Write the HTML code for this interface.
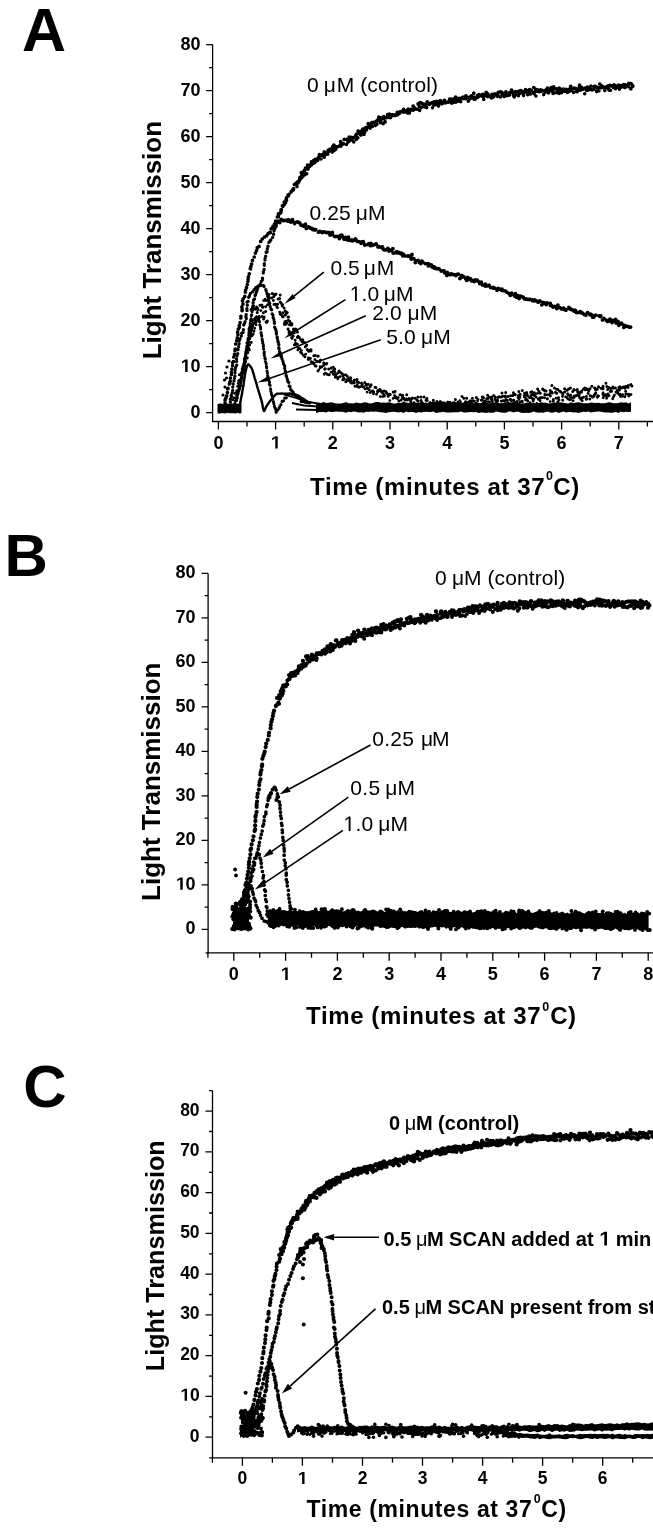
<!DOCTYPE html>
<html><head><meta charset="utf-8"><style>
html,body{margin:0;padding:0;background:#fff;width:653px;height:1535px;overflow:hidden}
svg{display:block;will-change:transform}
text{font-family:"Liberation Sans",sans-serif}
</style></head><body>
<svg width="653" height="1535" viewBox="0 0 653 1535" font-family='&quot;Liberation Sans&quot;, sans-serif' fill="#000"><text x="22" y="51.4" font-size="61" font-weight="bold" text-anchor="start">A</text>
<path d="M212.6 44.5 V422.1" stroke="#000" stroke-width="1.3"/>
<path d="M212 421.5 H653" stroke="#000" stroke-width="1.3"/>
<path d="M206.1 412.6H212.6M206.1 366.6H212.6M206.1 320.6H212.6M206.1 274.6H212.6M206.1 228.6H212.6M206.1 182.6H212.6M206.1 136.6H212.6M206.1 90.6H212.6M206.1 44.6H212.6M209.1 389.6H212.6M209.1 343.6H212.6M209.1 297.6H212.6M209.1 251.6H212.6M209.1 205.6H212.6M209.1 159.6H212.6M209.1 113.6H212.6M209.1 67.6H212.6M218.4 421.5V429.5M275.6 421.5V429.5M332.8 421.5V429.5M390 421.5V429.5M447.2 421.5V429.5M504.4 421.5V429.5M561.6 421.5V429.5M618.8 421.5V429.5M247 421.5V426.5M304.2 421.5V426.5M361.4 421.5V426.5M418.6 421.5V426.5M475.8 421.5V426.5M533 421.5V426.5M590.2 421.5V426.5M647.4 421.5V426.5" stroke="#000" stroke-width="1.3"/>
<text x="200.5" y="417.9" font-size="18" font-weight="bold" text-anchor="end">0</text>
<path transform="translate(180.5 371.9) scale(0.00879 -0.00879)" d="M530 0V1170L170 959V1180L545 1409H810V0Z"/>
<text x="190.5" y="371.9" font-size="18" font-weight="bold" xml:space="preserve">0</text>
<text x="200.5" y="325.9" font-size="18" font-weight="bold" text-anchor="end">20</text>
<text x="200.5" y="279.9" font-size="18" font-weight="bold" text-anchor="end">30</text>
<text x="200.5" y="233.9" font-size="18" font-weight="bold" text-anchor="end">40</text>
<text x="200.5" y="187.9" font-size="18" font-weight="bold" text-anchor="end">50</text>
<text x="200.5" y="141.9" font-size="18" font-weight="bold" text-anchor="end">60</text>
<text x="200.5" y="95.9" font-size="18" font-weight="bold" text-anchor="end">70</text>
<text x="200.5" y="49.9" font-size="18" font-weight="bold" text-anchor="end">80</text>
<text x="218.4" y="448.6" font-size="18" font-weight="bold" text-anchor="middle">0</text>
<path transform="translate(270.6 448.6) scale(0.00879 -0.00879)" d="M530 0V1170L170 959V1180L545 1409H810V0Z"/>
<text x="332.8" y="448.6" font-size="18" font-weight="bold" text-anchor="middle">2</text>
<text x="390" y="448.6" font-size="18" font-weight="bold" text-anchor="middle">3</text>
<text x="447.2" y="448.6" font-size="18" font-weight="bold" text-anchor="middle">4</text>
<text x="504.4" y="448.6" font-size="18" font-weight="bold" text-anchor="middle">5</text>
<text x="561.6" y="448.6" font-size="18" font-weight="bold" text-anchor="middle">6</text>
<text x="618.8" y="448.6" font-size="18" font-weight="bold" text-anchor="middle">7</text>
<text x="161" y="240.1" font-size="26" font-weight="bold" text-anchor="middle" transform="rotate(-90 161 240.1)">Light Transmission</text>
<text x="310.1" y="494.9" font-size="24" font-weight="bold" letter-spacing="0.6">Time (minutes at 37</text>
<text x="545.9" y="480.2" font-size="12.5" font-weight="bold">0</text>
<text x="553.3" y="494.9" font-size="24" font-weight="bold" letter-spacing="0.6">C)</text>
<text x="307" y="92.4" font-size="21" font-weight="normal" text-anchor="start" letter-spacing="0.1">0</text>
<text x="323.8" y="92.4" font-family="Liberation Serif" font-weight="normal" font-size="21">μ</text>
<text x="336.7" y="92.4" font-size="21" font-weight="normal" text-anchor="start" letter-spacing="0.1">M (control)</text>
<text x="309.6" y="220" font-size="21" font-weight="normal" text-anchor="start" letter-spacing="0.1">0.25</text>
<text x="355.7" y="220" font-family="Liberation Serif" font-weight="normal" font-size="21">μ</text>
<text x="368" y="220" font-size="21" font-weight="normal" text-anchor="start" letter-spacing="0.1">M</text>
<text x="330.4" y="274.6" font-size="21" font-weight="normal" text-anchor="start" letter-spacing="0.1">0.5</text>
<text x="363.8" y="274.6" font-family="Liberation Serif" font-weight="normal" font-size="21">μ</text>
<text x="376.7" y="274.6" font-size="21" font-weight="normal" text-anchor="start" letter-spacing="0.1">M</text>
<path transform="translate(349.7 301) scale(0.01025 -0.01025)" d="M515 0V1237L197 1010V1180L530 1409H696V0Z"/>
<text x="361.5" y="301" font-size="21" font-weight="normal" xml:space="preserve" letter-spacing="0.1">.0</text>
<text x="383.7" y="301" font-family="Liberation Serif" font-weight="normal" font-size="21">μ</text>
<text x="396.1" y="301" font-size="21" font-weight="normal" text-anchor="start" letter-spacing="0.1">M</text>
<text x="372.2" y="319.6" font-size="21" font-weight="normal" text-anchor="start" letter-spacing="0.1">2.0</text>
<text x="407.5" y="319.6" font-family="Liberation Serif" font-weight="normal" font-size="21">μ</text>
<text x="419.8" y="319.6" font-size="21" font-weight="normal" text-anchor="start" letter-spacing="0.1">M</text>
<text x="386.3" y="344" font-size="21" font-weight="normal" text-anchor="start" letter-spacing="0.1">5.0</text>
<text x="421" y="344" font-family="Liberation Serif" font-weight="normal" font-size="21">μ</text>
<text x="433.3" y="344" font-size="21" font-weight="normal" text-anchor="start" letter-spacing="0.1">M</text>
<path d="M323.8 272.1 L294 296.1" stroke="#000" stroke-width="1.6"/>
<path d="M284.3 303.9 L292.5 294.1 L295.6 298 Z" fill="#000"/>
<path d="M345.4 299.6 L294.9 331.5" stroke="#000" stroke-width="1.6"/>
<path d="M284.3 338.2 L293.5 329.4 L296.2 333.6 Z" fill="#000"/>
<path d="M365.8 315.7 L281.8 353.5" stroke="#000" stroke-width="1.6"/>
<path d="M270.4 358.6 L280.8 351.2 L282.8 355.8 Z" fill="#000"/>
<path d="M380.8 339.7 L269.3 378.5" stroke="#000" stroke-width="1.6"/>
<path d="M257.5 382.6 L268.5 376.1 L270.1 380.9 Z" fill="#000"/>
<path d="M225 403.1h0M225.1 399.9h0M225.9 397.9h0M226.7 395.9h0M227.4 392.5h0M227.5 388.8h0M228 388.4h0M229.4 384h0M229.8 382.9h0M230.2 381.3h0M230.4 378h0M231.4 374.4h0M231.4 372.4h0M231.9 369.2h0M232.6 365.5h0M232.6 362.6h0M233.5 361.5h0M233.8 357h0M234.5 354.4h0M235 350.6h0M235.3 349h0M235.7 344h0M236.7 340.7h0M237.3 337.8h0M237.9 334.4h0M237.6 332.2h0M238.3 329h0M239.4 327.3h0M239.3 325.5h0M240.1 322.7h0M240.8 317.9h0M240.9 316.4h0M242.1 310.6h0M242.1 309.3h0M241.9 306.9h0M243 303.9h0M242.5 300.7h0M243.2 298.8h0M244.8 296.4h0M245.4 292.1h0M245.7 290.1h0M246.5 287.6h0M247.3 284.6h0M247.9 281.2h0M248.1 279.4h0M248.4 276.9h0M249.3 273.8h0M250.5 268.9h0M250.3 268.6h0M250.9 266.4h0M251.6 264h0M252.4 260.4h0M254.2 257h0M255.4 253.1h0M256.6 250.6h0M257.3 247.7h0M259.1 246.4h0M260.7 241.4h0M262.2 239h0M264.5 237h0M266.7 235.7h0M268.1 233.6h0M269.9 232.7h0M269.7 232.6h0M270.4 232.6h0M271.1 228.8h0M271.7 228.3h0M273.3 226.3h0M273 226.3h0M273.7 226.8h0M274.5 224.2h0M275.6 221.2h0M277.2 222.5h0M277.6 221.3h0M277.4 216.9h0M278.3 216.7h0M278.4 213.8h0M278.4 214.8h0M280.1 213.3h0M280.9 212.2h0M281 209.9h0M281.4 209.8h0M282.8 206.5h0M282.4 205.8h0M284.3 204.6h0M285.5 202.8h0M284.2 202.2h0M285.2 202.4h0M286.1 199.4h0M286.5 200.2h0M286.6 197.7h0M288.5 195.7h0M288.1 195.1h0M289 194.3h0M291.2 191.8h0M291.3 191.3h0M293 189.2h0M293.4 189.8h0M293.6 188.5h0M294.4 184.5h0M295 184h0M296.8 182.7h0M296.9 183.6h0M297.9 183h0M297.3 182.2h0M298.6 181.7h0M299.6 179.9h0M300.1 178.5h0M300 177.4h0M301.3 172.7h0M301.8 175.1h0M302.4 174.5h0M304.4 170.9h0M304.9 173.7h0M304.7 170.1h0M305.5 168.1h0M307 167.9h0M307.8 169.1h0M308.3 165.6h0M307.5 165h0M309.7 166.3h0M310.2 164.9h0M310.8 164.8h0M311.4 161.9h0M312.3 163.4h0M313.2 161.5h0M313.7 160.4h0M315.4 159.4h0M315.4 159.7h0M316.7 159.1h0M318.8 157h0M319.4 154.5h0M321.1 155.4h0M322.8 155.4h0M323 154.4h0M324.3 151.9h0M325.1 153.5h0M326.2 153h0M328.2 150.4h0M327.7 154h0M328.6 150.2h0M328.9 149.8h0M330.3 149h0M331.6 149.2h0M332.9 147.9h0M332.8 146.4h0M333.8 145h0M335.6 146.5h0M338.2 146.5h0M340.4 144.6h0M340.6 141.5h0M342.9 143.5h0M344.3 139.5h0M344.2 139.5h0M346.4 139.3h0M348.3 140.4h0M349.2 137.6h0M349.2 137.1h0M352.1 137.9h0M351.4 137.3h0M354.2 137.4h0M355.5 135.9h0M356.2 137h0M356.7 134.1h0M358.1 131.2h0M359.1 132.2h0M360.5 133.9h0M361.2 131h0M362 132.5h0M362.8 129h0M363.6 129.4h0M365.7 127.7h0M366.4 127.5h0M368.2 123.7h0M368.4 127h0M369.5 127.2h0M369.4 124.2h0M371.8 122.7h0M372.3 122.7h0M373.6 122.8h0M374.4 122.1h0M376.1 122.4h0M376.8 120.9h0M377.8 119.9h0M378.8 117h0M380.1 119.9h0M380.9 117.9h0M382.7 118.3h0M383.8 116.6h0M384.6 118.1h0M386.2 117.7h0M387.6 114.6h0M389.4 114h0M389.8 114.7h0M390 115.5h0M392.3 114.8h0M394.2 115h0M395 115.5h0M396.2 115.1h0M397.2 112.3h0M398.9 113.2h0M399.3 112.1h0M401.7 111.6h0M402.7 111.7h0M403.9 111.4h0M403.6 109.4h0M405.1 111h0M406.7 110.6h0M407.8 112.9h0M408.2 109.2h0M410.1 109.9h0M411 109.3h0M413.1 106h0M414.7 108.1h0M414.2 107.6h0M415.4 108.8h0M418.1 103.9h0M419.4 106.5h0M420 102.7h0M421.6 103.2h0M423.8 104.2h0M425.1 106.9h0M426.2 104.3h0M427.2 101.8h0M430.1 103.7h0M430.1 103.4h0M432.3 102.6h0M434.2 101.8h0M434.1 102.2h0M436.9 101.3h0M437.8 101.8h0M438 101.9h0M440.3 100.7h0M441.3 102h0M442.9 102.9h0M444.2 100.4h0M445.7 102.3h0M447.8 102h0M449.7 99.1h0M450.1 100.7h0M451.3 99h0M453.2 102.3h0M454 98.9h0M455.6 97h0M456.9 98.4h0M457.7 101h0M459.1 98.4h0M459.7 98.6h0M462.2 97.6h0M463 97.2h0M463.8 98.5h0M465.9 95.8h0M466.6 97h0M468.3 97.9h0M470.2 96.8h0M471.3 95.9h0M473.9 97.2h0M473.8 93.2h0M474.7 99.1h0M475.9 97.8h0M477.5 95.7h0M479.1 94.5h0M480.4 95.4h0M482.7 94.3h0M483.4 96.3h0M484.7 94.5h0M486.2 92.3h0M487.8 93.8h0M489.5 96.1h0M491.3 96.3h0M492.1 94.3h0M492.3 97.3h0M494.9 93.9h0M496.6 94.7h0M496.8 94.1h0M498.3 92.3h0M500.4 91.9h0M502 92.4h0M502.1 94.8h0M504.5 94.1h0M505.9 91.9h0M505.1 95.4h0M507.4 95.2h0M509.5 92.6h0M511.6 90.2h0M512.6 92.7h0M514.2 95.5h0M515.2 91.7h0M515.9 92.4h0M518.1 91.7h0M519.1 91.2h0M520.7 92.4h0M520.9 90.5h0M523.1 91.6h0M523.9 92.5h0M525.5 89.7h0M526.9 92h0M527.8 90.7h0M529.6 89.7h0M530.3 94h0M531.2 90.4h0M533.8 87.5h0M533.8 92.7h0M535.7 90.8h0M535.7 89.4h0M536.2 90.8h0M537.8 89.9h0M540.1 91.4h0M540.7 90.3h0M540.8 89.8h0M542.1 90.3h0M544.1 90.8h0M546.1 89.8h0M547.5 89.4h0M547.4 88.2h0M549.7 88.9h0M551.2 87.7h0M551.8 91h0M552.6 90.1h0M553.6 86.8h0M554 88.7h0M556 88.9h0M556.2 88.8h0M557.9 90.1h0M559.2 88h0M561.7 89.4h0M562 91.3h0M563.6 89.2h0M566.1 89.3h0M568.3 89.5h0M569.5 89.2h0M570.7 86.3h0M572.3 89h0M574 88.2h0M575.6 88.3h0M577.2 91.7h0M579.3 87.4h0M579.5 85.2h0M579.7 89.8h0M581.6 87.3h0M582.6 89.1h0M583.9 88.8h0M585.2 88.1h0M586.9 90.3h0M587.5 87.1h0M589.3 88.6h0M589.7 89.5h0M591 86.1h0M594.2 87.2h0M594.6 86.3h0M595.5 86.6h0M597.2 87.4h0M600 87.7h0M599.8 84h0M601.6 85.9h0M603.2 86.9h0M603.5 87.4h0M605.5 87.3h0M607 86.6h0M608.5 87.2h0M608.7 85.6h0M610 85.3h0M612 85.9h0M613.4 87.3h0M614 84.9h0M616.4 86.2h0M616.3 87.5h0M618.7 85.2h0M619.1 85.7h0M619.8 86.4h0M621.2 85.6h0M622.4 85.5h0M623.7 84.7h0M625.2 84.8h0M626.9 85.9h0M628.8 83.4h0M630.6 83.5h0M631.4 83.8h0M632.8 85.8h0" stroke="#000" stroke-width="3.7" stroke-linecap="round" fill="none"/>
<path d="M297 186.6h0M298.7 181.7h0M298.8 181h0M299.8 179.8h0M301.8 177.7h0M303.1 176.1h0M304.1 170.9h0M304.9 174.8h0M306.7 173.7h0M307.3 167.9h0M308 168.6h0M311 165.2h0M311.7 164.4h0M313.5 163.2h0M314.8 162.8h0M316.8 160.8h0M317.7 160.4h0M318.2 158h0M321 159h0M322.4 154.9h0M324.3 157.2h0M325.3 154.8h0M326.9 154.1h0M328.4 151.3h0M329.6 151.1h0M332.3 152.1h0M333.1 151.1h0M334.7 150.1h0M335.7 149.2h0M336.7 147.3h0M340.8 146.3h0M342.2 143.9h0M343.5 143.9h0M346.5 144.5h0M347.8 142.3h0M348.9 141.6h0M349.8 140.8h0M352 139.7h0M353.8 142h0M356.2 139.5h0M357.8 137.9h0M359.1 133.6h0M359.8 133.7h0M360.9 135.1h0M363 132.3h0M364.1 134.5h0M364.6 132.7h0M366.5 130h0M368.5 126.9h0M370.1 128.3h0M371.1 124.9h0M372.4 126.5h0M375.4 125.6h0M376.8 124.4h0M378.3 120.2h0M380.2 122.7h0M381 121.1h0M383.2 123.8h0M385.2 121.9h0M384.9 121.6h0M387.4 117.2h0M389.2 117.4h0M390.7 117.6h0M392.5 115h0M393.4 115.5h0M395.3 115.1h0M397.7 114.7h0M399.2 113.5h0M401 111.6h0M402.3 111.4h0M404.2 112.1h0M406.4 112.1h0M408.2 110.1h0M409.5 113h0M411.1 110.1h0M413.3 110.2h0M415 108.7h0M417.4 109.2h0M419.6 110.5h0M421.1 107.8h0M423.1 106.4h0M425 104.6h0M426.7 107.6h0M429.3 104.4h0M432.5 107.8h0M433.8 105.2h0M435.6 104.7h0M436.5 103.2h0M438.5 106.1h0M439.6 103.6h0M441.8 104h0M444.7 100.6h0M445.4 103h0M448.6 102.1h0M450.4 99.8h0M451.7 103.3h0M454 100.3h0M455.7 102.3h0M457.5 101.1h0M459.3 99.4h0M460.7 101.7h0M462.2 98.6h0M465.6 98.7h0M466.7 97.1h0M468.3 101.3h0M469.8 99.1h0M471.5 98h0M474.1 99.3h0M475.2 99h0M477.5 97.4h0M478.8 96.5h0M482.2 96.3h0M483.7 99.4h0M486.2 95.9h0M487.8 96.8h0M491.4 98h0M492.7 96.8h0M493.9 96.6h0M497.6 96.5h0M498.1 95.5h0M500.5 97h0M504.2 96.6h0M507.1 95.8h0M508.7 94.9h0M509.6 95.1h0M513.5 95.4h0M514.2 97h0M516.1 94.9h0M518.5 95.8h0M519.5 93.5h0M522.3 93h0M523.6 95.6h0M524.8 92h0M527.7 94.7h0M529.2 91.9h0M531.5 90.8h0M534 93.7h0M535.9 96h0M537 91.2h0M538.9 91.8h0M541.3 91.2h0M543.7 94.6h0M545.6 92h0M548.5 93h0M548.9 91.4h0M551.4 90.7h0M553.1 93.5h0M554.2 92.9h0M557 92.6h0M559.1 93.5h0M560.5 91.1h0M561.4 92.8h0M564.5 91.4h0M567.4 92.5h0M568.8 91.5h0M570.7 90.6h0M573.6 92.4h0M576.5 91.1h0M577.7 89.9h0M579.3 88.7h0M580.7 90.1h0M582.6 89.1h0M584.7 93.7h0M586.9 90.3h0M588.9 89.7h0M590.8 89.3h0M592.2 90h0M594 89.2h0M596.6 91.6h0M597.6 88.2h0M598.9 91h0M601.4 87.8h0M604.8 90.6h0M605.4 88.2h0M608.5 88.8h0M609.1 90.3h0M610.5 90.3h0M614.1 87.4h0M615.5 88.7h0M616 87.4h0M619.4 89.2h0M621.1 87.2h0M623.2 86.4h0M624.6 87.6h0M625.2 87.4h0M627.8 85h0M628.7 86.7h0M630.9 88.9h0M632.6 86.4h0" stroke="#000" stroke-width="3.6" stroke-linecap="round" fill="none"/>
<path d="M230.4 405.7h0M230.4 402h0M230.4 399.3h0M231.4 397.1h0M231.3 395.2h0M232.2 392.7h0M232.7 390.4h0M232.8 387.1h0M233.2 384h0M234 380.7h0M234.5 378.1h0M234.9 376.3h0M235 372.7h0M235.1 370h0M235.6 367.6h0M236.7 365.2h0M236.5 361.4h0M236.5 359.1h0M237 356h0M237.7 353.8h0M237.9 349.8h0M238 349.3h0M238.6 346.6h0M239.1 343.7h0M239.3 340.5h0M240 338.9h0M241.3 336h0M241.7 333.3h0M243.1 332.5h0M243.4 329.7h0M243.7 325h0M244.6 323.4h0M245.1 321.6h0M246.3 318.5h0M245.9 316.6h0M246.2 314.6h0M247 310.6h0M246.9 308.7h0M247.3 305.2h0M247.1 302.1h0M248.1 301.4h0M248.7 297.2h0M249.5 295.8h0M250.4 293.4h0M252.5 291.9h0M254.1 289.7h0M255.8 287.6h0M257.9 286.2h0M260.3 284.2h0M261.3 281.5h0M262.5 279.7h0M262.5 278.3h0M263.2 272.9h0M263.4 271.8h0M264.1 269.5h0M264.3 265.3h0M264.3 263.7h0M265 260.1h0M265.2 258h0M265.7 256.1h0M266.2 252.4h0M267.1 251.7h0M267.3 248.8h0M268 246.2h0M268.9 242.4h0M270 241.3h0M270.8 239.9h0M272.7 237.4h0M273.6 234.3h0M274 230.7h0M274.8 228.7h0M275.9 226.7h0M276.4 225.5h0M278.5 221.3h0" stroke="#000" stroke-width="3.4" stroke-linecap="round" fill="none"/>
<path d="M279.8 222.6h0M281.1 219.3h0M283.2 220.6h0M284 220.6h0M284.6 220.4h0M287 220.2h0M287.9 221.2h0M288.7 220h0M290.6 221.9h0M290.8 222h0M292.4 219.6h0M294.2 222.5h0M294.6 223.5h0M297 221.9h0M298.2 222.2h0M299.9 223.1h0M300.9 225.1h0M302.1 225.4h0M303.7 225.4h0M304.2 226.4h0M305.5 224.2h0M306.3 228.4h0M308.1 226.9h0M309.6 227.4h0M309.9 228h0M311.8 228.5h0M312.7 229.6h0M313.6 229.4h0M314.9 230h0M315.7 229.6h0M318.5 232.2h0M319.4 231.3h0M320.7 231.7h0M322.3 232.5h0M323.7 231.9h0M325 232.1h0M326.9 232.7h0M328.3 232.3h0M329.8 233h0M330 235.1h0M331.9 234h0M332.4 232.3h0M332.3 234.5h0M334.5 236.3h0M335.6 236.6h0M337 236.4h0M339.4 238.6h0M340.2 235.7h0M341.8 235.1h0M342.3 236.4h0M343.9 239h0M345.3 237.3h0M346 239.4h0M348.3 240.2h0M348.5 237.2h0M350.4 240.4h0M351.6 239.8h0M352.3 240.8h0M353.5 240.4h0M355.3 238.9h0M356.2 240h0M357.3 241.4h0M359 241.6h0M361.1 243.3h0M361.9 242h0M363.2 241.7h0M363.6 242.8h0M364.8 245h0M367.8 244.6h0M368.3 244.3h0M368.8 243.6h0M370.5 244h0M370.5 245.7h0M371 243.5h0M372.3 245.3h0M374.6 244.6h0M376.2 244h0M378 246.9h0M378.5 246.5h0M380.1 247.1h0M382.5 246.9h0M383.1 248.9h0M384.4 249.9h0M385.7 249.9h0M387.8 248.5h0M389.1 251.1h0M389.8 249.9h0M391.7 250.4h0M392.9 248.7h0M393.2 253.1h0M395.6 252.7h0M396.7 251.6h0M397.6 252.9h0M398.7 252.4h0M400.4 253.5h0M401.5 253.1h0M402.8 255.8h0M403.3 254.1h0M405.1 255.8h0M407.5 256.1h0M408.6 256h0M410.3 256.7h0M411.2 259h0M412 254.4h0M412.6 258.5h0M413.8 258.6h0M415.6 260.6h0M415.3 262.5h0M418.1 260.3h0M419.3 262.4h0M420.8 263.5h0M421.9 261.1h0M422.7 261.9h0M422.4 261.9h0M425.2 263.6h0M427.2 263.6h0M428.3 265.8h0M428.4 263.6h0M431.3 265.9h0M431.3 265h0M432.2 267.1h0M432.7 266.5h0M434.3 268h0M434.2 266.8h0M436.3 268.5h0M438.3 268.7h0M439.1 269h0M438.4 268.9h0M441.2 271h0M442.6 270.9h0M444.1 271h0M444.8 272.9h0M446.8 275.4h0M447.2 272.4h0M448.1 273.7h0M450.1 274.7h0M450.5 274.1h0M451.5 273.9h0M452.3 274.4h0M454.3 274.7h0M455.9 275.5h0M457.1 274.3h0M458.4 274.2h0M459.8 278.5h0M461 277.4h0M461.8 275.5h0M462.5 276.2h0M464 276.8h0M465.7 278.7h0M466.6 280.3h0M467.8 277.5h0M468.9 279.5h0M470.3 278.6h0M471.8 280.9h0M472.5 280.3h0M474.3 281.5h0M475.3 280h0M477.1 280.2h0M477.9 281.2h0M479.9 282.5h0M479.7 283.5h0M481.3 282.1h0M482.5 284.9h0M485.3 286h0M485.3 284.2h0M487.2 285.9h0M487.9 285.8h0M488.7 285.4h0M489.2 285.5h0M490.6 287.6h0M493.2 287.3h0M493.3 288h0M494.7 288.1h0M497 290.3h0M498.1 288.3h0M498.3 288.6h0M499.8 289.2h0M501.7 290.3h0M502 289.2h0M503.5 290.7h0M505.7 291.1h0M507 292.3h0M509.2 293.7h0M510.3 295.3h0M511.8 293.2h0M514.1 295.2h0M514.7 296.1h0M515.4 293.7h0M516.6 297.2h0M518 295.6h0M518.7 295.9h0M519.1 298.5h0M520.6 296.2h0M521.1 296.5h0M523.2 297.2h0M524.3 298.8h0M525.5 299.2h0M526.3 298.9h0M527.6 299.4h0M529.2 299.5h0M530.1 299.3h0M532.2 300h0M532.6 300.7h0M534 300.9h0M534.7 299.8h0M536.3 300.8h0M538.1 302.2h0M539.2 301.4h0M539.8 300.9h0M541.8 304.8h0M542.9 302.3h0M544.5 302.8h0M544.9 303.6h0M546.3 304.6h0M547.1 303h0M550.2 303.4h0M550.4 305.4h0M551.4 305.4h0M552.9 307h0M554.6 306.5h0M556.7 308.6h0M557.9 305.1h0M558 307.7h0M559.8 307.6h0M561.6 308.9h0M563.5 308.1h0M564.6 309.5h0M566.2 309.7h0M565.9 310.2h0M568.9 307.3h0M568.9 308.6h0M570.7 309h0M570.9 309.4h0M572.7 310.1h0M574 311h0M574.7 310.2h0M575.6 310.7h0M576.4 312.6h0M578.2 312.6h0M580.3 311.7h0M581.1 312.2h0M581.5 312.9h0M582.5 313.1h0M584.3 314.5h0M585.7 314.5h0M585.9 315.2h0M587.6 312.6h0M590 314.8h0M590.5 314.1h0M591.8 315h0M592.7 317.2h0M593.7 317.2h0M594.3 315.8h0M595.4 315.3h0M595.8 315.1h0M599.2 316h0M600.2 316.6h0M600.8 316h0M602.5 319.9h0M604 318.4h0M606.2 320.2h0M607.6 321.4h0M608.4 320.9h0M609.9 319.1h0M610.9 320.9h0M612.1 322.5h0M612.8 320.4h0M614.5 320.8h0M615.6 319.5h0M616.2 323.1h0M618 321.3h0M618.9 325.3h0M619.1 324.4h0M621.4 323.1h0M622 324.1h0M623.8 327.4h0M624.8 325.4h0M625.7 326.1h0M627.8 326.4h0M629.2 327h0M630.6 327.1h0" stroke="#000" stroke-width="3.8" stroke-linecap="round" fill="none"/>
<path d="M236.2 400.6h0M236.5 398.3h0M237 395.6h0M237.5 393.2h0M238.7 391.1h0M238.9 389.6h0M239.3 386.2h0M239.8 384.3h0M240.2 382.3h0M240.8 381.2h0M241.7 377.1h0M241.8 375.2h0M242.4 372.5h0M242.5 371h0M243.1 369.2h0M243.6 366.4h0M244 364.3h0M244.6 361.9h0M244.7 360.2h0M245.1 358.3h0M245.5 355.9h0M245.9 353.4h0M245.9 351.9h0M246.4 349.9h0M246.9 347.7h0M247 346.3h0M247.1 343.1h0M247.6 342.4h0M248 339.4h0M248.5 338.1h0M248.9 335.3h0M249 332.7h0M249.3 331h0M249.2 329h0M249.8 327.1h0M250.2 324.6h0M250.4 323.2h0M250.7 320.8h0M251.1 318.9h0M251.4 315.6h0M251.6 314.9h0M252.1 311.6h0M252.5 309.9h0M252.7 307h0M253 305.6h0M253.1 302.6h0M253.6 300h0M254.5 298.9h0M255.1 295.5h0M255.5 294.7h0M256.4 292.2h0M257.1 290.3h0M257.8 288h0M258.6 286.1h0M260.6 285.5h0M263.3 285.5h0M264.1 286.6h0M265.8 289.6h0M266.3 291.1h0M267 293.7h0M267.7 296.3h0M268.4 298.3h0M268.5 300.3h0M269 301.7h0M269.7 303.4h0M270.2 306.7h0M271 309.1h0M271.6 309.8h0M272.1 313.9h0M272.9 315.1h0M273.2 317.8h0M273.8 319.4h0M274.4 322h0M274.4 323.3h0M274.7 327.2h0M275.5 328.9h0M275.9 330.2h0M276.3 332.3h0M276.4 334.1h0M277.2 337.2h0M277.3 338.4h0M277.9 341h0M278.2 342.2h0M278.8 344.5h0M278.8 347.7h0M279 348.7h0M279.6 351.8h0M280.1 353.2h0M280.9 354.9h0M281.4 356.9h0M282.1 359h0M283 361.6h0M283.5 363.9h0M284.7 365.9h0M284.7 368.3h0M285.3 371h0M285.6 372.8h0M286.2 375.5h0M286.5 376.4h0M287.3 379.1h0M287.6 380.9h0M288.7 382.4h0M289.2 386h0M290 386.7h0M290.8 389.7h0M292.1 391.1h0M293.2 392.5h0M294.6 395.1h0M296.4 396.1h0M298 397.5h0M299.5 398.3h0M301.3 401.5h0M303.1 401.6h0M305.3 402.3h0M307.5 402.6h0M309.8 402.8h0" stroke="#000" stroke-width="3.4" stroke-linecap="round" fill="none"/>
<path d="M234 404.8h0M234.8 403.5h0M235.5 401h0M236.4 398h0M237.1 395.4h0M237.6 394.2h0M238.2 391.1h0M239 389.7h0M239.4 387.8h0M240 385.1h0M240.7 382.7h0M241.1 380.1h0M241.5 377.9h0M241.9 376h0M242.3 373.6h0M242.7 371.2h0M243.3 370h0M243.1 367.7h0M243.8 365.9h0M244.7 363.3h0M244.7 361.1h0M245.2 359.8h0M245.6 357.5h0M245.7 355.3h0M246.2 353.1h0M247 351.2h0M247 348.5h0M247.3 346.6h0M248.3 344.7h0M248.3 342.3h0M248.7 341.3h0M249.4 338.4h0M249.6 336.6h0M250.7 335.1h0M251.1 331.3h0M251.5 328.8h0M251.8 326.6h0M252.5 325.3h0M253.3 323.4h0M253.9 319.5h0M255.1 318.4h0M256.2 317.3h0M257.7 318.1h0M258.8 320.4h0M259.5 321.8h0M259.8 325h0M260.6 327.4h0M260.7 329h0M261.1 332.7h0M261.4 334.6h0M261.7 335.9h0M262.1 339.2h0M262.4 340.7h0M262.7 342.7h0M263.3 344.7h0M263.4 346.4h0M263.6 349.1h0M264.3 352.1h0M264.1 353.2h0M264.3 355.3h0M264.9 357.9h0M265.3 359.1h0M265.3 361.3h0M266.2 363.6h0M266.4 366.4h0M266.7 367.7h0M267.1 371h0M267.4 373.1h0M267.7 375.9h0M268.1 377.2h0M268.9 379.8h0M269.5 382h0M269.4 384.2h0M270.1 385.3h0M270.5 388.8h0M270.7 390.7h0M271.3 392.9h0M271.6 394.8h0M272.3 396.6h0M272.7 398.7h0M273.4 401.7h0M273.8 403.6h0M274.4 406.2h0M275.2 408h0M275.7 409.5h0M276.1 412.2h0M277.6 410.1h0M279 408.3h0M279.7 406.6h0M280.9 404.5h0M282.1 401.4h0M283.5 400.8h0M284.7 398h0M286.3 397.8h0M287.4 394.5h0M289.7 393.8h0M292.2 394.3h0M293.9 394.6h0M295.6 394.9h0M298 395.9h0M299.5 396.9h0M301.2 399h0M303 400.6h0" stroke="#000" stroke-width="3.2" stroke-linecap="round" fill="none"/>
<path d="M240 404 L240.2 402.8 L240.5 401.6 L240.7 400.2 L240.9 399.2 L241.1 398.1 L241.3 397 L241.6 395.9 L241.8 394.7 L242 393.5 L242.2 392.4 L242.4 391.2 L242.6 390.1 L242.8 389 L243 388 L243.2 387 L243.3 385.9 L243.5 384.9 L243.7 383.8 L243.8 382.7 L244 381.6 L244.1 380.5 L244.3 379.5 L244.4 378.4 L244.6 377.4 L244.8 376.4 L245 374.9 L245.2 373.6 L245.4 372.4 L245.7 371.2 L246 369.8 L246.3 368.5 L246.6 367.4 L246.9 366.4 L247.3 365.3 L248.2 364.2 L249.1 364.8 L250 366 L250.8 366.9 L251.4 367.8 L252.1 369.3 L252.5 370.4 L252.9 371.7 L253.2 372.6 L253.5 373.7 L253.8 374.7 L254.1 375.8 L254.4 376.9 L254.7 378 L255 379 L255.3 380 L255.6 381 L255.9 381.9 L256.2 382.9 L256.5 383.9 L256.8 384.9 L257 385.8 L257.3 386.8 L257.6 387.8 L257.9 388.8 L258.2 389.7 L258.5 390.7 L258.8 391.7 L259.1 392.7 L259.4 393.6 L259.7 394.6 L260 395.6 L260.3 396.6 L260.6 397.6 L260.9 398.6 L261.2 399.5 L261.6 400.9 L261.8 401.9 L262.1 403.1 L262.4 404.4 L262.6 405.6 L262.8 406.8 L263 408 L263.2 409 L263.6 410.3 L264.1 411.1 L264.8 410.1 L265.3 408.8 L265.8 407.5 L266.3 406.6 L267 405.4 L267.8 404.1 L268.5 403.2 L269.4 402 L270.1 401.1 L270.8 400.2 L271.5 399.4 L272.1 398.6 L272.8 397.7 L273.6 396.7 L274.3 395.9 L275 395.1 L276.2 394.2 L277.4 393.7 L279 393.6 L280.2 393.6 L281.6 393.5 L282.7 393.6 L283.8 393.6 L285 393.6 L286.1 393.6 L287.2 393.7 L288.2 393.7 L289.6 393.8 L290.8 393.9 L291.9 394 L293.3 394.3 L294.6 394.6 L296 395 L296.9 395.4 L297.9 395.8 L298.8 396.2 L299.7 396.7 L300.6 397.2 L301.5 397.7 L302.4 398.3 L303.4 398.9 L304.4 399.5 L305.4 400.2 L306.3 400.8 L307.5 401.6" stroke="#000" stroke-width="2.4" fill="none" stroke-linejoin="round"/>
<path d="M231 405h0M233 399.8h0M234 397.8h0M234.9 393.2h0M236.7 390.7h0M237.7 386.3h0M238.3 383.2h0M238.7 380.7h0M240.1 379.7h0M239.4 374.8h0M241.3 372.8h0M242.2 369.1h0M242.9 366.8h0M244 363.4h0M244.4 358.8h0M245.3 356.8h0M246.3 352.3h0M247.4 349.2h0M247.5 345.7h0M248.3 343.5h0M249.9 338.2h0M250.1 337h0M250.6 333.2h0M251.7 329.8h0M252.7 326.1h0M253.8 323.2h0M254.9 320.4h0M256.5 316.8h0M257.2 312.4h0M257.9 309.7h0M260 305.3h0M261.9 305h0M263.7 300.4h0M266.3 300.5h0M265 299.2h0M268.1 295.2h0M269 297.2h0M269 294.4h0M269 294.4h0M271.5 298.1h0M272.2 293.4h0M273.8 294.3h0M273.7 296.8h0M275 295.1h0M276 293.9h0M278.1 299.1h0M280.2 295.1h0M278.2 299h0M279.7 298.6h0M281.1 303.3h0M280.3 302.1h0M282.2 306.1h0M282.7 304.8h0M284.1 308h0M282.8 312.8h0M285.2 311h0M285.3 315h0M286.1 311.7h0M286.1 313.8h0M287.2 312.6h0M288.5 317h0M288.1 317.1h0M288.4 320.3h0M289.7 321.2h0M289.5 324.8h0M290.5 323.1h0M291.9 323.7h0M291.7 325h0M293.5 329h0M293.5 329.3h0M294.7 330.7h0M295.7 329h0M297.4 331.9h0M296.6 330.4h0M297.3 337.3h0M298.1 336.3h0M298 336.5h0M300.6 339.5h0M299.4 337.6h0M301.7 340.9h0M302.3 341.7h0M302.6 339.8h0M304.3 342.3h0M306.4 345.4h0M305.3 346.7h0M306.7 344.9h0M307.3 349.4h0M308.3 351h0M310.3 350h0M308.6 351.3h0M311 349.7h0M311 350.9h0M313.8 355.8h0M314.9 359.5h0M315.3 355.6h0M317.9 356.2h0M318.2 355.9h0M317.3 361.3h0M320.5 360.1h0M319.7 361.7h0M323.9 362.9h0M323.7 363.1h0M323.8 365.3h0M326.1 364.1h0M325.3 368.7h0M326.8 363.4h0M328.7 369h0M331.2 368h0M333.2 367.2h0M333.5 370.5h0M334.7 369h0M334.6 371.7h0M335.9 374.8h0M337.7 373.1h0M339.1 371.1h0M340.5 372.6h0M343.1 375.1h0M342.8 379.7h0M344.2 379.3h0M345.5 374.7h0M347.1 376h0M348.1 380.6h0M348.9 378h0M350.6 377.7h0M350.8 380.7h0M350.8 378.3h0M352 383h0M354.5 379.9h0M354.3 382.8h0M357 379.5h0M357.4 381.8h0M358.7 382.6h0M362.2 384.4h0M361.5 383h0M364.7 382.4h0M365.8 385.3h0M368.1 384.3h0M366.7 384.5h0M367.6 388.2h0M369.2 389.8h0M370.2 386.6h0M371.1 384.7h0M371.9 391.3h0M375 387.2h0M375.9 387.6h0M377.8 390.4h0M379.8 389.2h0M381.6 392h0M382.6 392.9h0M384.2 391.1h0M385.8 391.4h0M386.2 392.5h0M387.4 393.7h0M389.6 394.2h0M390.2 394.5h0M393.2 392.1h0M394.7 391.9h0M395.1 391.5h0M396.2 397.8h0M398.1 397.5h0M400 394.7h0M400.3 394.7h0M402.4 397.2h0M402.8 395.2h0M403.8 398.2h0M406.1 399.3h0M406.7 394.8h0M407.5 400.1h0M410 399.3h0M411.6 399.1h0M412.5 398h0M415.2 398.2h0M417 399.9h0M418 397h0M418 401h0M421 397.1h0M421.9 402.4h0M421.1 400.4h0M424.1 397.1h0M426 400.2h0M426.9 398.6h0M430.1 402.5h0M430.1 402.9h0M433.1 403.5h0M433.3 400.3h0M435.9 403.8h0M437.2 402.4h0M437.1 403.1h0M436.9 401.4h0M439.9 401.9h0M440.2 401.5h0M441.3 402.3h0M443.1 406.4h0M444.1 402.8h0M446.8 403.4h0M448.4 404h0M447.8 402h0M450 402.2h0M453.3 402.8h0M452.4 407.6h0M454.6 402.8h0M455.4 399.4h0M456.7 403.6h0M457.9 403.7h0M458.1 401.9h0M459.9 400.7h0M459.8 400.7h0M462 396.5h0M463.8 398.2h0M465.6 401.8h0M466.7 398.2h0M468.4 402.1h0M470.3 400.8h0M471.6 402.5h0M472.4 398.3h0M474.3 401.1h0M472.3 401.4h0M476.3 397.6h0M477.6 400.6h0M478 399.6h0M481.9 400.1h0M483.1 397.3h0M482.3 397.1h0M483.5 398.1h0M485.3 401.7h0M487.6 399h0M486.7 398.8h0M487.6 398.4h0M487.6 395.2h0M489.5 397.2h0M491.6 397h0M491.6 397.4h0M491.9 398.7h0M493.8 395.5h0M495.1 397h0M495.1 399.5h0M497.4 400.6h0M497.9 397.5h0M499.2 396.7h0M501.2 396.9h0M502 393h0M502.7 396.2h0M505.3 396.1h0M505.4 397.1h0M506.1 399.7h0M505.7 392.6h0M508.1 396.6h0M510.9 399.7h0M510.6 399.7h0M510.6 395.8h0M513.5 392.7h0M513.7 393.4h0M512.8 395.5h0M515.1 394.6h0M515.3 394.8h0M518.5 395.4h0M518.8 391.6h0M519.9 397.3h0M519.6 395.4h0M520.2 394.3h0M522.3 390.4h0M524.2 395.8h0M524.5 393.2h0M527 393.9h0M526.9 394.8h0M526.6 392.6h0M527.5 395.8h0M530.7 392.2h0M531.9 391.7h0M532.8 394.4h0M530.9 395.6h0M534.4 392.8h0M534.5 395.4h0M535.3 394.3h0M537.8 392.9h0M537.6 389.1h0M539 391.3h0M540.3 393.2h0M543 389.6h0M542.7 389h0M543.8 390.1h0M544.8 390.9h0M544.8 394.5h0M547.1 394.7h0M546 391h0M550.2 390.5h0M550.5 392.9h0M551.6 391.8h0M551.9 385.4h0M552.3 393.1h0M554.5 388.1h0M555.5 392.2h0M556.7 393.2h0M556.8 389.2h0M557.9 389.4h0M560.3 391.6h0M560.7 392.1h0M559.7 391.3h0M562.8 394.8h0M564.6 392.1h0M564.6 388.7h0M567.7 393.7h0M567.1 390.2h0M568.3 394.9h0M568.7 389h0M570.7 394.9h0M570.4 388h0M572.7 391.4h0M574.3 390h0M573.9 389.5h0M577.2 390.5h0M577.3 389.6h0M578.5 392.9h0M577.7 391.9h0M579.4 393.8h0M579.3 392.3h0M581.6 391.1h0M581.6 392h0M583.6 389h0M584.7 388.1h0M585 389.8h0M586.3 388.4h0M586.8 389.5h0M587.9 389.6h0M588.7 391.1h0M590 388.8h0M591.8 386.2h0M594.6 387.9h0M594.9 388h0M595.7 392.7h0M596.5 389.6h0M595.5 389.6h0M597.2 389.2h0M598.5 386.8h0M601 388.2h0M602.3 388.7h0M603 388.8h0M602.4 387.9h0M603.1 386.3h0M605.9 383.2h0M606.9 386.5h0M607.7 389.5h0M608.9 387.4h0M610.7 388.4h0M611.5 391.2h0M612.9 386.9h0M615.4 388.1h0M613.4 388h0M612.9 387.9h0M617.1 391.5h0M618.8 387.4h0M619.8 386.8h0M619.4 390h0M620.8 388.1h0M623.5 387.1h0M622.2 387.8h0M625.2 388.2h0M626.2 386.6h0M625.5 386.4h0M628.1 387.3h0M628.3 385.4h0M630.9 384.5h0M631.9 386.1h0" stroke="#000" stroke-width="3" stroke-linecap="round" fill="none"/>
<path d="M235 404.8h0M236.4 400.5h0M237.5 398.1h0M238.2 393.6h0M239.9 388h0M240.9 385.7h0M241.1 380.8h0M242.6 377.9h0M243.6 373.4h0M243.8 370.8h0M244.2 369.6h0M245.6 366.5h0M245.7 361.7h0M247.3 358h0M247.8 352.8h0M249.4 350h0M248.8 348.3h0M249.7 345.1h0M251.2 342.5h0M252 335.8h0M253.2 334.3h0M254 331.2h0M254.6 328.2h0M256 324.7h0M256.5 321h0M257.8 318.4h0M259.1 316.4h0M260.8 310.6h0M262.8 307.3h0M265.6 306.8h0M269.6 304.3h0M273.4 300.5h0M274 304.5h0M275.2 304.3h0M276.8 306.8h0M277.5 307.7h0M277.6 304.2h0M279.9 312.6h0M279.7 312.2h0M280.1 314.3h0M281.3 314.9h0M282.4 316.8h0M282.4 315.8h0M283.2 316.9h0M284.5 323.5h0M284.9 321.7h0M284.3 324.6h0M286.1 321.3h0M285.8 324.6h0M287 323.3h0M288.1 328.9h0M288 329.3h0M289.1 331.3h0M289 333h0M289.4 331.7h0M290.2 334.9h0M290.4 332.7h0M291.6 337.7h0M292.1 338.6h0M293.2 336.2h0M295.2 340.2h0M294.4 344.9h0M295.5 343.2h0M295.9 344.5h0M297.4 344.1h0M298.3 348h0M297.9 349.9h0M299.9 348.6h0M300.5 352.2h0M301.4 350.6h0M301.6 353.2h0M303.2 355.3h0M305.7 354.1h0M305 356.9h0M308.5 358h0M308.2 359.4h0M308.7 359.6h0M310.4 358.5h0M311.2 361.8h0M312.8 362.5h0M313.6 363.7h0M315.1 365.9h0M315.6 365.6h0M316.1 366.3h0M318 371.1h0M318.7 369.9h0M320.2 366.6h0M320.4 367.7h0M322 366.7h0M324.2 374.2h0M324.7 369.2h0M325.4 373.1h0M327.1 374.3h0M328.2 374.8h0M329.4 374.7h0M331.1 372.1h0M332 372.1h0M333.4 374.4h0M334.5 374.3h0M335.3 377.2h0M337.5 377.5h0M337.8 378.7h0M340 376.7h0M342.1 373.7h0M342.9 376.2h0M343.9 378.5h0M345.8 381.9h0M346.9 379.6h0M348.9 378.8h0M350.6 381.2h0M350.4 382.3h0M351.2 382.8h0M353.6 381.1h0M354.9 386.2h0M356.7 386.2h0M357.3 384.6h0M359.1 387.3h0M358.4 387h0M360.6 386.6h0M362.4 386.6h0M363.5 387.1h0M365.1 388.9h0M367.2 388h0M367.1 392.1h0M370.2 392.6h0M372.7 390.9h0M373.7 392h0M373.5 393.7h0M376.6 394.2h0M377.6 392h0M378.9 391h0M381.6 390.9h0M380.2 396.6h0M382.7 396.6h0M384 394.6h0M384.5 396.1h0M389.9 394.5h0M388 395.8h0M388.3 396.4h0M389.8 400.6h0M393.1 398.4h0M394.6 395.8h0M395.5 397.8h0M395.8 396.9h0M397.2 398.6h0M398.8 400.9h0M401.1 400.3h0M402.3 397.8h0M404 402.9h0M403.8 398.9h0M405.1 399.9h0M406.7 398.9h0M409.3 398.5h0M410.7 401.5h0M412.1 403.6h0M412.5 403.9h0M414.1 402.7h0M415 404.1h0M415.7 404.5h0M417.7 404.4h0M419.5 405.1h0M420.6 405.6h0M423 403.8h0M423.7 404.6h0M426.4 405.4h0M427.2 400.6h0M428.4 406.3h0M429.8 403.4h0M432.4 403.5h0M434.3 403.1h0M433.6 402.6h0M436.1 406.1h0M437.6 403.3h0M440.1 407h0M441.5 403.6h0M441.9 409.3h0M444 406.6h0M446.9 404.1h0M446.6 407.7h0M447 408.7h0M448 405.2h0M450.4 406.2h0M451.6 404h0M453.5 407.1h0M456.4 404.5h0M455.8 408.9h0M457.4 405.2h0M459.8 406.9h0M459.5 406.1h0M460.4 402.2h0M462.5 404.4h0M464 407.6h0M464 408.2h0M464.2 405.6h0M465.5 402.2h0M466.8 405h0M469.2 405.1h0M469.4 405.3h0M469.1 402.6h0M469.6 408.7h0M472.4 405.2h0M476.4 403.2h0M475 405.3h0M474.9 406.7h0M475.4 403.4h0M476.2 405.2h0M476.9 405.1h0M479 405.5h0M481.4 400.3h0M482.6 404.5h0M483.2 403.3h0M484.5 401.1h0M485.6 401.4h0M485.3 401.9h0M489.5 401.9h0M488.3 401.9h0M489.8 407.3h0M491.2 399.3h0M492.3 401.2h0M494.3 405.4h0M495.9 400.8h0M496.6 402.2h0M497.3 401.4h0M497.7 400.4h0M498.6 404.4h0M501.3 401.3h0M503.5 404.8h0M503.2 400.6h0M504.2 401.3h0M505.3 400.6h0M506.3 403.8h0M510.2 399.4h0M507.3 400.2h0M508.1 402.8h0M511.5 400.9h0M511.7 400.4h0M515 403.4h0M513.8 400.3h0M514.5 402.4h0M516.8 401.7h0M518 397.8h0M517.1 401.6h0M518.9 399.2h0M520.2 402h0M521.9 401.8h0M522.3 401.9h0M522.1 401.3h0M525.5 399.9h0M524.4 397.1h0M526.3 398.7h0M527.7 400.8h0M529.4 397.6h0M530.1 402.6h0M532.8 399.2h0M531.6 397.9h0M533.2 401.1h0M533.4 400.1h0M533.7 398.9h0M536.9 403.5h0M539.2 398.5h0M536.2 397.2h0M538.3 399.2h0M540.1 400.7h0M540.3 397.7h0M541.7 397.8h0M542.8 397.6h0M544.6 397.7h0M545.3 404.3h0M547.3 399.1h0M547.5 398.7h0M550.1 401.6h0M549.3 394.8h0M550.4 396.1h0M553.3 399.5h0M553.1 401.2h0M553.5 400.8h0M556.1 398.3h0M557.7 401.9h0M558.6 397.8h0M558.3 398.2h0M559 400.1h0M562.6 393.3h0M562.5 396.6h0M562.7 400.3h0M567 397.8h0M565.7 396.9h0M566.3 397.2h0M568 398.9h0M569.6 399.8h0M570.5 399.6h0M570.2 396.8h0M572.3 397.6h0M573.1 400.8h0M574.3 396h0M574.2 397.6h0M576.1 395.8h0M577.4 395.3h0M579 395.9h0M579.3 397.4h0M581 398.5h0M580.7 399.2h0M582 398h0M582.2 400.7h0M583.6 397.3h0M586.2 399.4h0M586.7 399h0M586.4 396.5h0M588.1 393.4h0M589.8 399.1h0M590.1 395.7h0M591.9 396.4h0M592.5 397.2h0M594.1 396.2h0M594.2 395h0M595.2 394.3h0M597.4 397.2h0M597.9 395.7h0M598.6 396.1h0M598.6 396.1h0M602.9 394.5h0M603.2 397.7h0M603.1 393h0M604.8 395.7h0M605.6 394.8h0M607.4 396.6h0M606.6 398.2h0M608.1 394h0M609.1 395.6h0M610.4 391.5h0M612.7 398.8h0M613.6 396.6h0M614.4 395.3h0M617.3 390.4h0M617.8 393.2h0M616 392.2h0M619.9 394.1h0M619.2 394.6h0M620.6 396.5h0M622.4 396.3h0M622.6 394.6h0M624.8 396.8h0M625.6 391.4h0M625.8 394.2h0M627.5 394.1h0M628.8 396h0M629.2 394.5h0M631 394.6h0" stroke="#000" stroke-width="2.9" stroke-linecap="round" fill="none"/>
<circle cx="225.5" cy="373" r="1.6"/>
<circle cx="224.5" cy="380" r="1.6"/>
<circle cx="225" cy="387" r="1.6"/>
<circle cx="226.5" cy="378" r="1.6"/>
<circle cx="227" cy="367" r="1.6"/>
<circle cx="223" cy="395" r="1.6"/>
<circle cx="229" cy="361" r="1.6"/>
<circle cx="255.5" cy="309.3" r="1.5"/>
<circle cx="263.6" cy="319.1" r="1.5"/>
<circle cx="253.7" cy="306.1" r="1.5"/>
<circle cx="264.1" cy="317" r="1.5"/>
<circle cx="262.2" cy="316.5" r="1.5"/>
<circle cx="262.5" cy="307.1" r="1.5"/>
<circle cx="251.1" cy="309.4" r="1.5"/>
<circle cx="250.6" cy="325" r="1.5"/>
<circle cx="259.4" cy="317.4" r="1.5"/>
<circle cx="267.4" cy="320.9" r="1.5"/>
<circle cx="254.1" cy="308.8" r="1.5"/>
<circle cx="252" cy="320.7" r="1.5"/>
<circle cx="263.3" cy="312.7" r="1.5"/>
<circle cx="256.6" cy="307" r="1.5"/>
<circle cx="258.8" cy="318.5" r="1.5"/>
<circle cx="266.1" cy="322.1" r="1.5"/>
<circle cx="265.6" cy="311.4" r="1.5"/>
<circle cx="257.6" cy="308.2" r="1.5"/>
<circle cx="267.5" cy="304.8" r="1.5"/>
<circle cx="252.8" cy="307.3" r="1.5"/>
<circle cx="266.6" cy="322.2" r="1.5"/>
<circle cx="256" cy="322.1" r="1.5"/>
<path d="M217.5 404.3 L219.5 403.4 L221.5 403.6 L223.5 404.3 L225.5 403.7 L227.5 403.5 L229.5 403.7 L231.5 403.2 L233.5 404.1 L235.5 404 L237.5 403.4 L239.5 404 L241.5 403.6 L241.5 413 L239.5 413.5 L237.5 412.8 L235.5 413.5 L233.5 413.2 L231.5 413.2 L229.5 413.3 L227.5 412.8 L225.5 413.5 L223.5 413.3 L221.5 412.9 L219.5 413.7 L217.5 413.3Z" fill="#000"/>
<path d="M316 403.4 L318.5 402.4 L321 402.9 L323.5 402.1 L326 403 L328.5 402.8 L331 402.3 L333.5 402.7 L336 403.4 L338.5 403.6 L341 403.4 L343.5 402.9 L346 402.1 L348.5 403.3 L351 403.2 L353.5 403.6 L356 402.6 L358.5 403 L361 403.3 L363.5 402.6 L366 402.2 L368.5 403.2 L371 403.6 L373.5 402.7 L376 402 L378.5 402.1 L381 402.7 L383.5 402.5 L386 402.8 L388.5 402.3 L391 402.8 L393.5 403.4 L396 403.4 L398.5 402.5 L401 402.9 L403.5 402.1 L406 402.6 L408.5 403.1 L411 402.5 L413.5 403.4 L416 402.7 L418.5 402.6 L421 402.3 L423.5 403.1 L426 402.6 L428.5 403.3 L431 403.3 L433.5 403.2 L436 402.4 L438.5 403.1 L441 402.8 L443.5 402.3 L446 403 L448.5 402.4 L451 402.2 L453.5 402.3 L456 402.5 L458.5 402.2 L461 403 L463.5 402.5 L466 402.9 L468.5 403.2 L471 402.4 L473.5 403.3 L476 403.2 L478.5 402.7 L481 403.3 L483.5 402.2 L486 402.1 L488.5 403.6 L491 402.4 L493.5 402.3 L496 402.8 L498.5 403.4 L501 403.3 L503.5 402.9 L506 402.3 L508.5 402.5 L511 402.5 L513.5 402.1 L516 402.2 L518.5 402.5 L521 403.5 L523.5 403.4 L526 402.7 L528.5 402.4 L531 403.3 L533.5 402.4 L536 403.5 L538.5 403 L541 402.2 L543.5 402.7 L546 402.7 L548.5 403.5 L551 403.2 L553.5 402.4 L556 402.6 L558.5 402.3 L561 402.6 L563.5 402.8 L566 403.2 L568.5 403.4 L571 402.3 L573.5 403.2 L576 402.6 L578.5 402.2 L581 402.8 L583.5 403.3 L586 403.2 L588.5 403.3 L591 402.4 L593.5 402.8 L596 402.9 L598.5 402.7 L601 403.3 L603.5 403.3 L606 403 L608.5 402.2 L611 402.5 L613.5 403.3 L616 403.3 L618.5 403.1 L621 402.3 L623.5 402.7 L626 402.2 L628.5 403.4 L631 402.2 L631 411.7 L628.5 412 L626 411.8 L623.5 412.2 L621 411.6 L618.5 412.9 L616 412.1 L613.5 412.5 L611 412.8 L608.5 412.6 L606 412.4 L603.5 412.3 L601 411.8 L598.5 411.4 L596 411.7 L593.5 412 L591 412.4 L588.5 411.6 L586 412 L583.5 411.7 L581 412.2 L578.5 412.9 L576 412.2 L573.5 412.5 L571 412 L568.5 412 L566 412.6 L563.5 411.4 L561 412.2 L558.5 412.9 L556 411.8 L553.5 412.5 L551 412.7 L548.5 411.8 L546 411.7 L543.5 412.7 L541 412.5 L538.5 412.8 L536 412.3 L533.5 411.5 L531 412.6 L528.5 412.9 L526 412.7 L523.5 413 L521 412.8 L518.5 411.8 L516 411.7 L513.5 412.4 L511 411.5 L508.5 411.4 L506 412.8 L503.5 412.8 L501 412.5 L498.5 412.1 L496 411.4 L493.5 412.7 L491 412.8 L488.5 412.6 L486 412.9 L483.5 412.4 L481 412.4 L478.5 413 L476 412 L473.5 412.3 L471 412.1 L468.5 412.3 L466 412.4 L463.5 412.5 L461 411.6 L458.5 412.2 L456 412.3 L453.5 412.2 L451 412.4 L448.5 412.4 L446 412.5 L443.5 411.7 L441 412.2 L438.5 412.5 L436 412.9 L433.5 411.4 L431 412 L428.5 412.1 L426 411.8 L423.5 412.1 L421 412.5 L418.5 412 L416 412.9 L413.5 411.9 L411 411.9 L408.5 412.3 L406 411.6 L403.5 412.9 L401 411.9 L398.5 412.4 L396 412 L393.5 411.7 L391 412 L388.5 412.2 L386 413 L383.5 412.5 L381 412.2 L378.5 412 L376 411.5 L373.5 411.7 L371 411.5 L368.5 412.1 L366 411.8 L363.5 412.7 L361 412.3 L358.5 412.6 L356 411.8 L353.5 411.5 L351 412.2 L348.5 411.8 L346 412.7 L343.5 412 L341 411.8 L338.5 411.8 L336 411.6 L333.5 412 L331 411.9 L328.5 411.6 L326 412.4 L323.5 411.9 L321 411.9 L318.5 412.3 L316 412.9Z" fill="#000"/>
<path d="M284 394.7 L296 398 L306 401.5 L318 403.5" stroke="#000" stroke-width="1.8" fill="none" stroke-linejoin="round"/>
<path d="M292 403 L304 405.5 L318 406.5" stroke="#000" stroke-width="1.8" fill="none" stroke-linejoin="round"/>
<path d="M296 409.5 L318 410" stroke="#000" stroke-width="1.8" fill="none" stroke-linejoin="round"/>
<text x="4.5" y="575.9" font-size="60" font-weight="bold" text-anchor="start">B</text>
<path d="M208.1 573.4 V953.4" stroke="#000" stroke-width="1.3"/>
<path d="M205.5 952.8 H653" stroke="#000" stroke-width="1.3"/>
<path d="M201.6 929.4H208.1M201.6 884.9H208.1M201.6 840.4H208.1M201.6 795.9H208.1M201.6 751.4H208.1M201.6 706.9H208.1M201.6 662.4H208.1M201.6 617.9H208.1M201.6 573.4H208.1M204.6 907.1H208.1M204.6 862.6H208.1M204.6 818.1H208.1M204.6 773.6H208.1M204.6 729.1H208.1M204.6 684.6H208.1M204.6 640.1H208.1M204.6 595.6H208.1M233.8 952.8V960.8M285.6 952.8V960.8M337.4 952.8V960.8M389.2 952.8V960.8M441 952.8V960.8M492.8 952.8V960.8M544.6 952.8V960.8M596.4 952.8V960.8M648.2 952.8V960.8M207.9 952.8V957.8M259.7 952.8V957.8M311.5 952.8V957.8M363.3 952.8V957.8M415.1 952.8V957.8M466.9 952.8V957.8M518.7 952.8V957.8M570.5 952.8V957.8M622.3 952.8V957.8" stroke="#000" stroke-width="1.3"/>
<text x="195.6" y="934.3" font-size="18" font-weight="bold" text-anchor="end">0</text>
<path transform="translate(175.6 889.8) scale(0.00879 -0.00879)" d="M530 0V1170L170 959V1180L545 1409H810V0Z"/>
<text x="185.6" y="889.8" font-size="18" font-weight="bold" xml:space="preserve">0</text>
<text x="195.6" y="845.3" font-size="18" font-weight="bold" text-anchor="end">20</text>
<text x="195.6" y="800.8" font-size="18" font-weight="bold" text-anchor="end">30</text>
<text x="195.6" y="756.3" font-size="18" font-weight="bold" text-anchor="end">40</text>
<text x="195.6" y="711.8" font-size="18" font-weight="bold" text-anchor="end">50</text>
<text x="195.6" y="667.3" font-size="18" font-weight="bold" text-anchor="end">60</text>
<text x="195.6" y="622.8" font-size="18" font-weight="bold" text-anchor="end">70</text>
<text x="195.6" y="578.3" font-size="18" font-weight="bold" text-anchor="end">80</text>
<text x="233.8" y="979.9" font-size="18" font-weight="bold" text-anchor="middle">0</text>
<path transform="translate(280.6 979.9) scale(0.00879 -0.00879)" d="M530 0V1170L170 959V1180L545 1409H810V0Z"/>
<text x="337.4" y="979.9" font-size="18" font-weight="bold" text-anchor="middle">2</text>
<text x="389.2" y="979.9" font-size="18" font-weight="bold" text-anchor="middle">3</text>
<text x="441" y="979.9" font-size="18" font-weight="bold" text-anchor="middle">4</text>
<text x="492.8" y="979.9" font-size="18" font-weight="bold" text-anchor="middle">5</text>
<text x="544.6" y="979.9" font-size="18" font-weight="bold" text-anchor="middle">6</text>
<text x="596.4" y="979.9" font-size="18" font-weight="bold" text-anchor="middle">7</text>
<text x="648.2" y="979.9" font-size="18" font-weight="bold" text-anchor="middle">8</text>
<text x="160.3" y="781.7" font-size="26" font-weight="bold" text-anchor="middle" transform="rotate(-90 160.3 781.7)">Light Transmission</text>
<text x="306.1" y="1024.4" font-size="24" font-weight="bold" letter-spacing="0.6">Time (minutes at 37</text>
<text x="542.2" y="1010.5" font-size="12.5" font-weight="bold">0</text>
<text x="550.2" y="1024.4" font-size="24" font-weight="bold" letter-spacing="0.6">C)</text>
<text x="435" y="585.4" font-size="21" font-weight="normal" text-anchor="start" letter-spacing="0.1">0</text>
<text x="452.1" y="585.4" font-family="Liberation Serif" font-weight="normal" font-size="21">μ</text>
<text x="464" y="585.4" font-size="21" font-weight="normal" text-anchor="start" letter-spacing="0.1">M (control)</text>
<text x="372.2" y="745.8" font-size="21" font-weight="normal" text-anchor="start" letter-spacing="0.3">0.25</text>
<text x="420.9" y="745.8" font-family="Liberation Serif" font-weight="normal" font-size="21">μ</text>
<text x="431.9" y="745.8" font-size="21" font-weight="normal" text-anchor="start" letter-spacing="0.3">M</text>
<text x="350.3" y="794.8" font-size="21" font-weight="normal" text-anchor="start" letter-spacing="0.3">0.5</text>
<text x="385.2" y="794.8" font-family="Liberation Serif" font-weight="normal" font-size="21">μ</text>
<text x="397.5" y="794.8" font-size="21" font-weight="normal" text-anchor="start" letter-spacing="0.3">M</text>
<path transform="translate(343.4 831) scale(0.01025 -0.01025)" d="M515 0V1237L197 1010V1180L530 1409H696V0Z"/>
<text x="355.4" y="831" font-size="21" font-weight="normal" xml:space="preserve" letter-spacing="0.3">.0</text>
<text x="378.2" y="831" font-family="Liberation Serif" font-weight="normal" font-size="21">μ</text>
<text x="390.6" y="831" font-size="21" font-weight="normal" text-anchor="start" letter-spacing="0.3">M</text>
<path d="M370.5 745 L289.3 789" stroke="#000" stroke-width="1.6"/>
<path d="M279.6 794.2 L287.8 786.2 L290.7 791.7 Z" fill="#000"/>
<circle cx="269.5" cy="795.5" r="2.1"/>
<circle cx="271" cy="793" r="2.1"/>
<circle cx="268.5" cy="798" r="2.1"/>
<circle cx="277.5" cy="797" r="2.1"/>
<circle cx="276.5" cy="800" r="2.1"/>
<circle cx="274.5" cy="787.5" r="2.1"/>
<path d="M348.4 797.2 L271.8 851.3" stroke="#000" stroke-width="1.6"/>
<path d="M262.8 857.6 L270 848.7 L273.6 853.8 Z" fill="#000"/>
<path d="M342.9 830.3 L264 883.3" stroke="#000" stroke-width="1.6"/>
<path d="M254.9 889.4 L262.3 880.7 L265.8 885.8 Z" fill="#000"/>
<path d="M241 907.1h0M241.5 903.2h0M243.1 899.7h0M243.9 895.8h0M244 892.7h0M244.8 890.3h0M245.5 884.9h0M246.3 882.6h0M247 878.6h0M247.6 875h0M248.2 871.6h0M248.8 867.7h0M248.9 864.5h0M249.1 861.9h0M249.7 858.3h0M250.4 854.5h0M250.5 850h0M251.1 848.7h0M251.6 844.4h0M252.9 840.3h0M253.5 836.3h0M254.6 831h0M255.1 829.4h0M255.1 825.5h0M255.4 821h0M255.5 817h0M255.8 815.5h0M256.6 811.9h0M256.7 806.9h0M256.7 804.4h0M257.1 801.7h0M257.3 797h0M257.7 793.7h0M258.9 789.6h0M259.2 785.1h0M259.6 781.9h0M260.5 779.3h0M260.4 774.5h0M260.6 772.7h0M261.4 770.1h0M261.9 766.2h0M262.2 764.7h0M262.4 758.8h0M263.3 756.1h0M264.2 753.7h0M264.7 751.7h0M265.7 747.1h0M266.2 743.6h0M267.7 739.9h0M268.8 735.4h0M269.1 732.9h0M270.6 728.4h0M270.8 725.1h0M271.4 721.9h0M272.1 719.3h0M272.9 715.9h0M273.4 713.1h0M274.1 710.7h0M275.9 706h0M277.3 704.3h0M277.1 697.9h0M279.7 698.8h0M279.3 695.1h0M280.6 695.5h0M280.7 691.3h0M281.8 689.5h0M282.4 688.2h0M283.2 685.7h0M284.3 685.5h0M285.7 686.4h0M288.8 679.4h0M289.1 675.1h0M290.8 675.5h0M291.2 673.2h0M293.6 672.7h0M295.9 671.3h0M298.4 669.3h0M298.8 666.5h0M301.6 665.2h0M301.5 665.4h0M302.9 660.9h0M303.4 663.9h0M305.5 665.7h0M306.1 656.5h0M307.4 659.4h0M307.7 656.1h0M309.4 658.3h0M309.5 658.7h0M311.9 654.6h0M312.2 656.1h0M313.3 655.8h0M314.9 656.3h0M315.7 658.2h0M316.7 653.5h0M317.3 654.3h0M318.2 653.8h0M319.2 653.1h0M320.7 653.5h0M322.9 653h0M322.5 651h0M324.5 650.2h0M325.1 649.5h0M327.1 649.7h0M327.5 646.5h0M329.6 649.4h0M329.8 647.8h0M330.1 645.4h0M330.8 644.1h0M332.4 645.1h0M334.4 645.3h0M335.9 640.4h0M336.4 640.3h0M338.2 643.3h0M340.5 642.6h0M342.2 640.1h0M343.7 640.1h0M344.6 639.9h0M346.8 639.4h0M347.3 638.1h0M349.1 638.8h0M351.1 637.8h0M352 636.8h0M352.5 634.8h0M353.5 638h0M354.3 634.4h0M354 632.2h0M356.6 635.4h0M358.3 635.4h0M358.1 630.6h0M359.3 632.9h0M361.2 634.3h0M363.2 634h0M362.8 633h0M364.3 629.7h0M366.1 633.7h0M367.5 631.8h0M368.6 629.9h0M369.9 629.8h0M369.8 633.1h0M371 633.1h0M371.9 632h0M371.9 628.5h0M374.9 629.5h0M374.7 628.4h0M376.1 627.6h0M377.1 627.9h0M379.7 628.2h0M381.6 628.7h0M381.3 624.9h0M382.7 627.6h0M383.1 626.2h0M383.6 624.2h0M386.4 625.6h0M386.9 626.5h0M388.7 627h0M389.9 624.7h0M389.8 624.5h0M392.7 622.7h0M393.5 623.6h0M394.5 624.3h0M395 621.3h0M396.5 621.2h0M397.8 620.1h0M399.4 621.4h0M400.6 622.3h0M401.2 623.6h0M401 619.4h0M402.7 624h0M404.4 623.2h0M406.8 618.9h0M407.3 622.4h0M409.2 617.6h0M409 617.7h0M410.5 617.1h0M411.7 620.3h0M411.1 619.9h0M414.2 620h0M414.9 619.4h0M417.1 619.8h0M417.8 620.6h0M418.2 619h0M420.1 618.8h0M421.1 614.9h0M422.8 616.5h0M423.7 618.4h0M425 618.3h0M427 614.9h0M426.3 619h0M427.6 617h0M429.9 617.3h0M430.4 615.7h0M430.7 617.6h0M432.6 617.5h0M434.3 615.8h0M436 611.4h0M436.8 616.6h0M437.4 615.2h0M440.7 612.3h0M441.4 613.9h0M441.2 611.4h0M443.7 613.6h0M445.3 612h0M447.2 615.7h0M448.6 613.3h0M449.9 611.9h0M451.5 613.8h0M451.8 610.4h0M453.6 610.7h0M456.4 612.3h0M454.9 612.8h0M457.1 612.5h0M459.3 610.2h0M459 611.4h0M459.8 610.7h0M461.1 610h0M463.3 611.4h0M464.4 609.2h0M464.8 610.4h0M467.3 609.5h0M467.9 607.7h0M469.4 607.8h0M469.8 608h0M472.4 609.1h0M472.6 606.2h0M473.2 608.6h0M475 610.7h0M475.4 606.5h0M476.2 606.4h0M478.4 607h0M480 605.4h0M482.4 607.7h0M483.7 606.4h0M485.4 604.4h0M485.5 607.5h0M486.4 608.7h0M488 604h0M489.8 605.9h0M491.9 606.1h0M491.5 605.3h0M492.8 606.7h0M493.5 604.7h0M497.4 606h0M497.2 605.3h0M497.6 602.9h0M498.1 606.1h0M501.2 607h0M502 603.9h0M502.9 605.5h0M503.9 602.8h0M505 604h0M506.3 605.3h0M506.7 604.5h0M508.7 604.1h0M509.6 602.5h0M512.5 603.1h0M511.8 605.5h0M511.9 605.7h0M514.5 603h0M515.7 603.4h0M516.9 605.1h0M517.7 605.1h0M518.1 604.4h0M519.8 601.3h0M521.7 602.4h0M521.3 604h0M523.5 602.3h0M525.1 602.1h0M524.8 602.5h0M526.3 602.3h0M526.8 602.6h0M526.4 605.5h0M529 603h0M530.3 604h0M531.5 605.9h0M531.1 601.1h0M533.2 605.9h0M534.6 602.6h0M535.6 602.8h0M536.4 602.5h0M537.9 602.8h0M538.7 600.5h0M541.4 605.4h0M541.3 600.5h0M541.8 601.5h0M544.5 604h0M544.8 601.2h0M545.3 604.8h0M546.8 602.9h0M547.8 601.4h0M551.1 601.5h0M550.8 600.3h0M553.6 603.1h0M552.2 601.1h0M555.6 603.4h0M555.5 603h0M556.1 601.6h0M558.4 601.3h0M559.1 603.9h0M560.3 602.7h0M561.5 602.6h0M562.8 600.4h0M563.5 600.8h0M565.2 604.1h0M566.6 604.9h0M567.2 603.7h0M567.8 600.8h0M568.5 602.3h0M570.9 602.7h0M572.2 603.2h0M574.8 603.2h0M575.1 600.7h0M575.5 601h0M576.7 604.3h0M577.5 601.4h0M579 599.7h0M579.9 603.1h0M580.9 599.7h0M582.2 600.4h0M583.9 601.2h0M583.5 601.3h0M584.8 601.9h0M586 603h0M587.2 603.4h0M587.5 605.3h0M590.7 602.5h0M589.8 602.9h0M591.6 602.5h0M593.1 601.7h0M594.5 602.7h0M595.8 601.2h0M597.1 599.5h0M598 603h0M600.3 599.8h0M599 599.6h0M601.3 602.5h0M602.7 601.6h0M603.4 600.7h0M605.7 601.4h0M605.9 601.4h0M608.5 601.2h0M608.7 603.8h0M609.4 603.9h0M611.2 604.7h0M613.8 601.1h0M613.2 602h0M613.8 600.9h0M615.8 602.7h0M616.8 603.8h0M618.2 601.5h0M618.1 602h0M620.3 603.7h0M622.3 602.2h0M623.3 603.6h0M623 604.5h0M624.2 603.1h0M626.3 601.9h0M627.5 607.3h0M628.9 601.5h0M631.5 605.5h0M631.8 601.4h0M633.4 604.1h0M634.2 601.3h0M635.6 601.6h0M637 604.4h0M637.6 602.9h0M639.2 604.6h0M640.7 600.7h0M642.2 601.9h0M642.9 603.8h0M642.3 603h0M644 604.1h0M646.1 602.2h0M648 603.6h0M649.4 605.4h0" stroke="#000" stroke-width="4.3" stroke-linecap="round" fill="none"/>
<path d="M278.4 702.6h0M279.1 703.8h0M278.8 698.1h0M280.4 697.6h0M282 695.3h0M282.9 693.2h0M283.5 690.8h0M284.6 685.7h0M286.4 684.2h0M287.3 684.5h0M287.4 680.4h0M289.7 678.8h0M292.6 676.1h0M293.3 672.7h0M295.3 675.5h0M297.7 673h0M298.7 670.4h0M301.1 668.8h0M303 667h0M304.2 664.7h0M306.8 663.4h0M309.6 661.5h0M310.8 659.5h0M313 659.4h0M316.4 660h0M316.8 658.3h0M319 653.9h0M321.5 654.4h0M323.5 651.8h0M325.1 653.7h0M326.8 652.3h0M330.3 651.6h0M332.4 648.5h0M332.9 650h0M335 647.1h0M337.9 645h0M339.2 646.4h0M341.6 645.7h0M341.8 643.6h0M344.1 643.2h0M345.9 643.3h0M346.4 640.2h0M348.7 641.4h0M350 643.4h0M350 640.2h0M350.7 639.7h0M352.3 640.8h0M355.2 638.7h0M355.4 640.9h0M357.3 636.9h0M358.4 636.3h0M360.3 635.6h0M362.7 636.8h0M361.9 636.4h0M364 637.7h0M364.2 638.7h0M367.2 635.2h0M367.9 634.1h0M369.1 634.5h0M371.2 632.4h0M372 635.2h0M375.1 632.5h0M375.3 632.1h0M376.5 632.7h0M378.7 631.5h0M379.2 632.3h0M380.5 631.3h0M381.3 632.5h0M382.6 629.4h0M384.1 627.5h0M385.5 629.4h0M386.6 629.1h0M389.1 626.2h0M389.6 626.6h0M390.7 630h0M391.9 627.5h0M392.9 628.5h0M395.1 625.6h0M395.6 627.4h0M398 625.6h0M398.9 626.4h0M401.1 625h0M399.9 628.6h0M402.7 624.5h0M404.2 624h0M404.3 625.6h0M407.4 622.9h0M407.8 623.2h0M409.7 622.8h0M410.4 622.3h0M412.1 622h0M414.6 623.2h0M415.4 622.4h0M417 620.2h0M420.1 620.7h0M420.2 622.7h0M421.8 618.6h0M423.3 621.3h0M425.7 622.7h0M426.2 619.4h0M428.4 618.9h0M428.3 620.4h0M430.2 619.3h0M431.8 619.8h0M433.8 616.5h0M435.5 618.5h0M435.5 618.5h0M437.1 619.9h0M438.6 618.3h0M440.8 618h0M442.6 617h0M443.2 617h0M444.9 615.4h0M447.1 616.9h0M447.7 616.8h0M450.4 613.6h0M452 616.9h0M452.4 615.5h0M454.1 614h0M455.9 614.9h0M459.2 614.1h0M460.1 615.9h0M461.5 615.8h0M462 615.4h0M463.9 610.8h0M465.2 616.1h0M466.9 614.1h0M467.3 610h0M469.9 612.1h0M471 612h0M472.4 610.9h0M473.3 613.1h0M475.5 609.8h0M477.9 610.6h0M479.1 613.1h0M481.6 610.4h0M482.9 609.3h0M484.1 610.8h0M484.6 611.1h0M488.7 608.2h0M490 609.4h0M491 607.3h0M492.8 612h0M495.1 608.9h0M497.7 610.2h0M498.1 608.3h0M500.7 609.8h0M502.3 605.8h0M503.8 608.1h0M504.9 606.5h0M506.3 607.3h0M508.8 607.9h0M508.9 605.2h0M511.4 607.4h0M512.3 607.4h0M513.8 608.6h0M515.5 607.3h0M517.8 610.7h0M517.8 605.5h0M519.4 608.3h0M520.9 604.2h0M523.4 605h0M523.8 607.8h0M526.4 607.4h0M527.8 607.4h0M527.7 606h0M529.9 604.9h0M530.5 606h0M532.7 608.7h0M533.8 606.1h0M534.8 606.4h0M535.9 605.9h0M537.3 605.4h0M539.7 605h0M542.1 605.9h0M542.4 606.8h0M543.2 606.4h0M545 606.2h0M546.1 606.2h0M547.6 607.3h0M548.8 607h0M551.1 604.1h0M552 606h0M552.8 606.2h0M554.9 605.5h0M555.9 605.7h0M557.1 604.5h0M558.8 604.9h0M561.8 606.1h0M561.9 605.5h0M563.4 606.9h0M565.4 603.8h0M564.8 608h0M566.5 604.8h0M568.6 606.1h0M569.9 606.4h0M570.8 604.1h0M573.4 603.8h0M574.1 605.4h0M575.6 606h0M577.1 604.2h0M578.1 607.4h0M579.3 605.6h0M580.4 605.2h0M582.1 607.3h0M582.9 608.3h0M584.5 606.3h0M587.6 605.2h0M588 603.5h0M590.6 605h0M591.1 604.8h0M593.7 604.4h0M594.9 605.5h0M597.2 601.2h0M599.1 604.4h0M599.2 605.5h0M602.1 605.7h0M603.3 605.2h0M605.2 605.5h0M606 606h0M607 605.3h0M609.9 605.8h0M610.1 606.9h0M611.8 604h0M613.7 605.7h0M614.6 606.8h0M616.6 605.4h0M618.3 605.3h0M619.3 604.7h0M621.7 605.4h0M622.9 606.9h0M623.6 605.1h0M625.4 606.9h0M627.6 607.2h0M629.5 606.1h0M630.7 605.7h0M632.2 604.1h0M634.1 608.3h0M635.4 604.9h0M636 606.6h0M638 606.5h0M639.8 605.3h0M640.8 607.9h0M642.3 607.4h0M643.4 605.1h0M646.2 604.2h0M647.9 607.8h0M648.2 607.7h0" stroke="#000" stroke-width="4" stroke-linecap="round" fill="none"/>
<path d="M246.6 900.7h0M247.8 897.9h0M248.2 894.5h0M249.7 889h0M250 885.4h0M250.8 881h0M250.9 878.8h0M252 876.1h0M252.7 871.6h0M253.7 869.5h0M254.4 864.9h0M254.6 863h0M256 858.1h0M256.6 855.5h0M257.3 852.8h0M258.2 849.2h0M258.9 845.7h0M259.4 842.4h0M260.4 838h0M261.2 834.4h0M262.2 831h0M262.8 826.1h0M263.6 824.2h0M264.1 820.7h0M264.4 816.7h0M265.9 813.8h0M265.9 812h0M266.7 806.6h0M267.3 804.7h0M268.1 800.3h0M269.7 797.5h0M270.9 793.8h0M272.4 789.7h0M274.9 787.9h0M276.1 790.1h0M277.4 793.9h0M278.4 796.8h0M279.3 801.9h0M280.1 805.1h0M280 808.4h0M280.5 812.2h0M280.7 815.8h0M281.3 818.4h0M281.5 823.3h0M282 825.5h0M282.2 830.1h0M282.4 832.6h0M282.8 837.3h0M283.2 840.3h0M283.6 844.9h0M284.1 848.4h0M284.3 851.1h0M284.1 855.2h0M284.3 860h0M285.3 862.8h0M285.2 865.8h0M286 868.7h0M286.3 873h0M286.2 875.1h0M286.3 879.7h0M287.1 882.2h0M287.3 885.8h0M288.3 890.3h0M288.5 894.9h0M289 898.6h0M289.6 902.2h0M290.1 905.9h0M290.2 908h0M291.9 912.8h0" stroke="#000" stroke-width="3.7" stroke-linecap="round" fill="none"/>
<path d="M241 922.3h0M241.5 917.5h0M242.3 915.5h0M242.7 911.5h0M244.5 908.4h0M245.3 904.4h0M245.4 901.7h0M246.5 896.5h0M247 894.1h0M248 891.6h0M248.5 888.5h0M249 886.1h0M250.1 881.2h0M250.4 877.6h0M251 873.1h0M252 869.1h0M253.1 866h0M253.6 862h0M254.8 858.3h0M256.7 854.8h0M259.3 854.4h0M260 858h0M260.8 860.1h0M261.2 863.2h0M261.5 867.1h0M262.4 871.5h0M263.5 875.7h0M263.1 878h0M264 881.7h0M264 885.1h0M264.7 889.9h0M265.4 891.2h0M265.2 895.5h0M265.7 899.6h0M266.4 901.5h0M266.3 906.5h0M266.9 907.4h0M267.3 911h0M266.9 914.4h0M268.1 916.4h0M269 920.5h0M269.5 923.1h0M271.4 926.2h0M273.5 927.3h0M276 925.5h0" stroke="#000" stroke-width="3.7" stroke-linecap="round" fill="none"/>
<path d="M238.8 923h0M239.3 918.3h0M239.7 915.2h0M240.6 911.6h0M241.2 909.5h0M242.2 904.6h0M242.6 902.8h0M243.1 900.2h0M243.6 898.4h0M244.3 894.3h0M245.1 891.5h0M246.2 888.4h0M247.5 886.6h0M248.4 883.9h0M251.1 886.1h0M252.2 888.5h0M252.6 891.8h0M253.3 894.2h0M254 898.1h0M255.1 900h0M255.6 901.6h0M256.1 905.3h0M257.3 907.5h0M258.3 910.7h0M259.6 912.4h0M260.5 915.3h0M262 918.2h0M264.2 921h0M266.1 921.6h0M268.5 923.1h0M272.4 923.9h0" stroke="#000" stroke-width="3.7" stroke-linecap="round" fill="none"/>
<circle cx="243" cy="906.3" r="2"/>
<circle cx="247.4" cy="918.9" r="2"/>
<circle cx="240.1" cy="918.3" r="2"/>
<circle cx="244.5" cy="911.8" r="2"/>
<circle cx="233.7" cy="913.4" r="2"/>
<circle cx="250" cy="907.6" r="2"/>
<circle cx="244.1" cy="900.6" r="2"/>
<circle cx="246.7" cy="925.4" r="2"/>
<circle cx="239.1" cy="911.6" r="2"/>
<circle cx="241.7" cy="906.9" r="2"/>
<circle cx="236" cy="906.1" r="2"/>
<circle cx="245.1" cy="913.9" r="2"/>
<circle cx="250.2" cy="928.7" r="2"/>
<circle cx="248.6" cy="928.1" r="2"/>
<circle cx="247.9" cy="896.3" r="2"/>
<circle cx="234.5" cy="929.4" r="2"/>
<circle cx="248.6" cy="916.6" r="2"/>
<circle cx="243.8" cy="911.9" r="2"/>
<circle cx="240.1" cy="904.5" r="2"/>
<circle cx="242.4" cy="907.3" r="2"/>
<circle cx="234.3" cy="926.6" r="2"/>
<circle cx="242.9" cy="926.1" r="2"/>
<circle cx="237.6" cy="918" r="2"/>
<circle cx="237.3" cy="925.2" r="2"/>
<circle cx="236" cy="920.4" r="2"/>
<circle cx="242.5" cy="908.9" r="2"/>
<circle cx="233.5" cy="916.7" r="2"/>
<circle cx="241.9" cy="924.4" r="2"/>
<circle cx="235.9" cy="907.7" r="2"/>
<circle cx="237.8" cy="924.4" r="2"/>
<circle cx="236.4" cy="919.9" r="2"/>
<circle cx="232.6" cy="906.7" r="2"/>
<circle cx="245.5" cy="913.4" r="2"/>
<circle cx="234.1" cy="916.1" r="2"/>
<circle cx="249.9" cy="908.3" r="2"/>
<circle cx="242.6" cy="911.8" r="2"/>
<circle cx="241.6" cy="900.6" r="2"/>
<circle cx="248.8" cy="915.3" r="2"/>
<circle cx="238.6" cy="909.3" r="2"/>
<circle cx="235.6" cy="928.2" r="2"/>
<circle cx="248" cy="908.5" r="2"/>
<circle cx="243.5" cy="915.7" r="2"/>
<circle cx="235.8" cy="903.6" r="2"/>
<circle cx="246" cy="902" r="2"/>
<circle cx="242.7" cy="899.1" r="2"/>
<circle cx="232.4" cy="908.9" r="2"/>
<circle cx="244.4" cy="917.4" r="2"/>
<circle cx="250.8" cy="917.7" r="2"/>
<circle cx="241.9" cy="899.5" r="2"/>
<circle cx="250.2" cy="911.6" r="2"/>
<circle cx="248.3" cy="896.7" r="2"/>
<circle cx="247.9" cy="911.9" r="2"/>
<circle cx="236.1" cy="913.7" r="2"/>
<circle cx="233.4" cy="919.2" r="2"/>
<circle cx="236.2" cy="921.8" r="2"/>
<circle cx="235.3" cy="921.6" r="2"/>
<circle cx="243.7" cy="920.8" r="2"/>
<circle cx="250.1" cy="904.7" r="2"/>
<circle cx="245" cy="910.2" r="2"/>
<circle cx="249" cy="923.8" r="2"/>
<circle cx="246.5" cy="916.5" r="2"/>
<circle cx="237" cy="927.4" r="2"/>
<circle cx="250.4" cy="928.2" r="2"/>
<circle cx="238.4" cy="924.9" r="2"/>
<circle cx="244.9" cy="924.8" r="2"/>
<circle cx="247.2" cy="911.4" r="2"/>
<circle cx="239.5" cy="924" r="2"/>
<circle cx="244.4" cy="915.1" r="2"/>
<circle cx="248.6" cy="896.2" r="2"/>
<circle cx="232.3" cy="916.5" r="2"/>
<circle cx="233.8" cy="925.9" r="2"/>
<circle cx="233.7" cy="926.9" r="2"/>
<circle cx="236.3" cy="906.1" r="2"/>
<circle cx="246.3" cy="919.2" r="2"/>
<circle cx="239.8" cy="918" r="2"/>
<circle cx="242.5" cy="928.4" r="2"/>
<circle cx="241.6" cy="915.8" r="2"/>
<circle cx="240.8" cy="912.2" r="2"/>
<circle cx="245.1" cy="900.8" r="2"/>
<circle cx="245.2" cy="927.7" r="2"/>
<circle cx="246.5" cy="914.6" r="2"/>
<circle cx="238.7" cy="903.8" r="2"/>
<circle cx="233.8" cy="918" r="2"/>
<circle cx="248.7" cy="925.3" r="2"/>
<circle cx="235.5" cy="923.2" r="2"/>
<circle cx="247.3" cy="912.2" r="2"/>
<circle cx="248.3" cy="901.7" r="2"/>
<circle cx="238.4" cy="916" r="2"/>
<circle cx="245.8" cy="911.7" r="2"/>
<circle cx="237.7" cy="926.2" r="2"/>
<circle cx="239.4" cy="912.9" r="2"/>
<circle cx="236.2" cy="915.8" r="2"/>
<circle cx="245.4" cy="908.9" r="2"/>
<circle cx="244.6" cy="913.5" r="2"/>
<circle cx="232.2" cy="929.1" r="2"/>
<circle cx="237.5" cy="917.2" r="2"/>
<circle cx="250.2" cy="901.5" r="2"/>
<circle cx="233.2" cy="909.6" r="2"/>
<circle cx="234.9" cy="926" r="2"/>
<circle cx="241.8" cy="900.4" r="2"/>
<circle cx="237.2" cy="916.3" r="2"/>
<circle cx="235.3" cy="911.3" r="2"/>
<circle cx="249.2" cy="910.4" r="2"/>
<circle cx="236.4" cy="918.9" r="2"/>
<circle cx="234.1" cy="917.4" r="2"/>
<circle cx="244.3" cy="900.5" r="2"/>
<circle cx="242.4" cy="908.4" r="2"/>
<circle cx="246.1" cy="917.1" r="2"/>
<circle cx="249.3" cy="916.1" r="2"/>
<circle cx="235.5" cy="907.9" r="2"/>
<circle cx="245.4" cy="923.7" r="2"/>
<circle cx="233.2" cy="915" r="2"/>
<circle cx="237.4" cy="915" r="2"/>
<circle cx="248.6" cy="914.6" r="2"/>
<circle cx="246.1" cy="922.1" r="2"/>
<circle cx="237.3" cy="919.3" r="2"/>
<circle cx="239.1" cy="914.6" r="2"/>
<circle cx="242.1" cy="919.7" r="2"/>
<circle cx="235.2" cy="925.6" r="2"/>
<circle cx="235.1" cy="911.6" r="2"/>
<circle cx="248.1" cy="929.5" r="2"/>
<circle cx="239" cy="928.6" r="2"/>
<circle cx="232.7" cy="928.9" r="2"/>
<circle cx="235.8" cy="903.7" r="2"/>
<circle cx="246.5" cy="901.8" r="2"/>
<circle cx="246.3" cy="896.7" r="2"/>
<circle cx="234.4" cy="913" r="2"/>
<circle cx="233.6" cy="916.3" r="2"/>
<circle cx="238.6" cy="922.4" r="2"/>
<circle cx="241.4" cy="928.9" r="2"/>
<circle cx="248" cy="901.3" r="2"/>
<circle cx="249.4" cy="926.3" r="2"/>
<circle cx="242.7" cy="915.1" r="2"/>
<circle cx="235.2" cy="911.7" r="2"/>
<circle cx="236.2" cy="907.9" r="2"/>
<circle cx="243.7" cy="908.4" r="2"/>
<circle cx="246.6" cy="915.6" r="2"/>
<circle cx="247.7" cy="898.6" r="2"/>
<circle cx="248.1" cy="912.9" r="2"/>
<circle cx="244" cy="905.5" r="2"/>
<path d="M233 914.6 L235 913.7 L237 910.9 L239 911.8 L241 910.4 L243 909.6 L245 907.9 L247 907.7 L249 906 L249 929.8 L247 929.2 L245 930.4 L243 930 L241 930.6 L239 929 L237 929.9 L235 930.8 L233 930.2Z" fill="#000"/>
<path d="M268 910 L270.2 909.1 L272.4 910.9 L274.6 910.8 L276.8 909.3 L279 908.6 L281.2 910.2 L283.4 910 L285.6 910.4 L287.8 911 L290 908.9 L292.2 911 L294.4 910.6 L296.6 911 L298.8 910.9 L301 910.8 L303.2 910 L305.4 910.9 L307.6 911.3 L309.8 910.7 L312 909.9 L314.2 910.2 L316.4 909.6 L318.6 911.1 L320.8 910.7 L323 910.4 L325.2 909 L327.4 911.5 L329.6 910.2 L331.8 909.7 L334 909.1 L336.2 911.1 L338.4 909.7 L340.6 910 L342.8 911.6 L345 910.9 L347.2 909.1 L349.4 909.4 L351.6 909.8 L353.8 911 L356 911.1 L358.2 910.6 L360.4 911.4 L362.6 910.8 L364.8 910.2 L367 910.1 L369.2 910.8 L371.4 910 L373.6 909.4 L375.8 910.5 L378 911.7 L380.2 911.3 L382.4 910.2 L384.6 912 L386.8 910.5 L389 910.1 L391.2 910.3 L393.4 910.3 L395.6 911.8 L397.8 910 L400 911.4 L402.2 911.8 L404.4 911.1 L406.6 911.6 L408.8 909.8 L411 910.3 L413.2 910.7 L415.4 911.1 L417.6 912 L419.8 910.4 L422 910 L424.2 912.1 L426.4 910.7 L428.6 912 L430.8 912.4 L433 910 L435.2 911.1 L437.4 910.5 L439.6 911.6 L441.8 910.2 L444 910.1 L446.2 910.2 L448.4 912.2 L450.6 912.1 L452.8 911.7 L455 912.1 L457.2 910.1 L459.4 910.6 L461.6 912 L463.8 910.3 L466 910.5 L468.2 911.8 L470.4 911.4 L472.6 912.4 L474.8 912 L477 910.3 L479.2 912.2 L481.4 911.7 L483.6 912.2 L485.8 911 L488 910.8 L490.2 911.6 L492.4 912.2 L494.6 911.6 L496.8 911.8 L499 911.7 L501.2 912.7 L503.4 912.4 L505.6 910.7 L507.8 911.2 L510 911.7 L512.2 913 L514.4 911.4 L516.6 912.9 L518.8 912.1 L521 911.5 L523.2 912.6 L525.4 910.9 L527.6 911.7 L529.8 911.8 L532 912.9 L534.2 912.6 L536.4 911.6 L538.6 911.2 L540.8 911.1 L543 911 L545.2 911.8 L547.4 912.5 L549.6 910.8 L551.8 912.7 L554 911.6 L556.2 912.6 L558.4 913.3 L560.6 912.3 L562.8 911.6 L565 913.4 L567.2 912.4 L569.4 913.4 L571.6 913 L573.8 911.4 L576 911.1 L578.2 911.2 L580.4 911.5 L582.6 913.1 L584.8 913.6 L587 911.4 L589.2 913.2 L591.4 913.1 L593.6 913.2 L595.8 911.2 L598 913 L600.2 913.1 L602.4 911.9 L604.6 913.4 L606.8 911.6 L609 911.3 L611.2 911.9 L613.4 913.1 L615.6 911.8 L617.8 913 L620 911.3 L622.2 913.7 L624.4 912.7 L626.6 913.8 L628.8 912.7 L631 912.7 L633.2 912.8 L635.4 912.3 L637.6 912 L639.8 913.4 L642 912.7 L644.2 911.8 L646.4 913.5 L648.6 912.6 L648.6 929.1 L646.4 930.6 L644.2 929.9 L642 930.8 L639.8 930.8 L637.6 929.3 L635.4 929.5 L633.2 929.6 L631 928.6 L628.8 930.4 L626.6 930.1 L624.4 930.1 L622.2 929.3 L620 930.5 L617.8 930.2 L615.6 928.4 L613.4 930.1 L611.2 930.3 L609 929.5 L606.8 930.1 L604.6 930.1 L602.4 928.8 L600.2 928.7 L598 929.5 L595.8 928.4 L593.6 929 L591.4 929.5 L589.2 928.3 L587 929.1 L584.8 928.5 L582.6 928.8 L580.4 930.4 L578.2 928.5 L576 929.4 L573.8 928.6 L571.6 929.9 L569.4 929.9 L567.2 928.1 L565 928.2 L562.8 929 L560.6 928 L558.4 929.5 L556.2 928.2 L554 928.5 L551.8 930 L549.6 929.9 L547.4 928.6 L545.2 928.3 L543 929.4 L540.8 928.9 L538.6 928.5 L536.4 927.6 L534.2 928.1 L532 930 L529.8 929.4 L527.6 928.4 L525.4 929.6 L523.2 928.3 L521 929.8 L518.8 930 L516.6 927.9 L514.4 929.2 L512.2 929.3 L510 928.1 L507.8 928.3 L505.6 928 L503.4 929.1 L501.2 928.6 L499 929.1 L496.8 928.5 L494.6 928.8 L492.4 927.8 L490.2 929.5 L488 927.2 L485.8 928.5 L483.6 928.5 L481.4 928.4 L479.2 928.4 L477 929.4 L474.8 928.7 L472.6 928.7 L470.4 927.6 L468.2 927.6 L466 928.7 L463.8 928.6 L461.6 927.1 L459.4 929.3 L457.2 929.4 L455 927.1 L452.8 927.6 L450.6 929 L448.4 926.9 L446.2 928.9 L444 927.1 L441.8 927.6 L439.6 927.1 L437.4 928 L435.2 926.7 L433 927.3 L430.8 927.5 L428.6 929.2 L426.4 929 L424.2 926.9 L422 928.8 L419.8 927 L417.6 927.3 L415.4 928.1 L413.2 927.7 L411 928.1 L408.8 927.7 L406.6 928.2 L404.4 928.5 L402.2 926.7 L400 927.7 L397.8 928.9 L395.6 928.1 L393.4 928 L391.2 927.4 L389 928.8 L386.8 928.8 L384.6 927.9 L382.4 927.6 L380.2 928.3 L378 926.5 L375.8 926.5 L373.6 926.3 L371.4 927.4 L369.2 926.5 L367 928 L364.8 926.4 L362.6 927.8 L360.4 928.1 L358.2 926.2 L356 926.8 L353.8 926.5 L351.6 928.4 L349.4 928.1 L347.2 926.6 L345 926.2 L342.8 927.3 L340.6 927 L338.4 928.3 L336.2 928.1 L334 927.9 L331.8 927.9 L329.6 926 L327.4 926.3 L325.2 926.9 L323 927.4 L320.8 927 L318.6 927.5 L316.4 927.8 L314.2 926.2 L312 926.9 L309.8 927.3 L307.6 927 L305.4 928.1 L303.2 927.9 L301 927.3 L298.8 926.1 L296.6 925.6 L294.4 927.7 L292.2 926.2 L290 927.5 L287.8 927 L285.6 926.1 L283.4 926.6 L281.2 925.6 L279 927.7 L276.8 926.7 L274.6 927.2 L272.4 926.2 L270.2 925.8 L268 925.9Z" fill="#000"/>
<circle cx="635" cy="929.9" r="1.9"/>
<circle cx="400.2" cy="909.4" r="1.9"/>
<circle cx="337.8" cy="927.5" r="1.9"/>
<circle cx="556.6" cy="913" r="1.9"/>
<circle cx="323.3" cy="909.3" r="1.9"/>
<circle cx="302.8" cy="928.1" r="1.9"/>
<circle cx="649.8" cy="930" r="1.9"/>
<circle cx="615.5" cy="912" r="1.9"/>
<circle cx="289.2" cy="926.8" r="1.9"/>
<circle cx="296.3" cy="927.4" r="1.9"/>
<circle cx="299.7" cy="911.2" r="1.9"/>
<circle cx="494.1" cy="912" r="1.9"/>
<circle cx="556.4" cy="928.9" r="1.9"/>
<circle cx="575.6" cy="911.4" r="1.9"/>
<circle cx="428" cy="929.1" r="1.9"/>
<circle cx="481.3" cy="928" r="1.9"/>
<circle cx="519.2" cy="910.5" r="1.9"/>
<circle cx="291.3" cy="908.9" r="1.9"/>
<circle cx="576.9" cy="913.7" r="1.9"/>
<circle cx="487.4" cy="928.3" r="1.9"/>
<circle cx="279.6" cy="909" r="1.9"/>
<circle cx="341.9" cy="909.2" r="1.9"/>
<circle cx="450.8" cy="928.9" r="1.9"/>
<circle cx="571.4" cy="911" r="1.9"/>
<circle cx="493.2" cy="912.4" r="1.9"/>
<circle cx="310.8" cy="928.1" r="1.9"/>
<circle cx="364.2" cy="910.9" r="1.9"/>
<circle cx="366" cy="926.7" r="1.9"/>
<circle cx="479" cy="911.7" r="1.9"/>
<circle cx="302.4" cy="925.7" r="1.9"/>
<circle cx="308.3" cy="927.8" r="1.9"/>
<circle cx="549.3" cy="927.4" r="1.9"/>
<circle cx="547.1" cy="912.4" r="1.9"/>
<circle cx="274.1" cy="911.2" r="1.9"/>
<circle cx="386.1" cy="909.3" r="1.9"/>
<circle cx="602.8" cy="911.3" r="1.9"/>
<circle cx="401.9" cy="912.2" r="1.9"/>
<circle cx="439.1" cy="909.8" r="1.9"/>
<circle cx="566.3" cy="929.7" r="1.9"/>
<circle cx="325" cy="908.8" r="1.9"/>
<circle cx="419.4" cy="926.7" r="1.9"/>
<circle cx="484.9" cy="910.8" r="1.9"/>
<circle cx="581.1" cy="930.3" r="1.9"/>
<circle cx="630.7" cy="911.9" r="1.9"/>
<circle cx="485.8" cy="912.8" r="1.9"/>
<circle cx="450.5" cy="928.1" r="1.9"/>
<circle cx="611" cy="929.2" r="1.9"/>
<circle cx="269.9" cy="925.6" r="1.9"/>
<circle cx="595.1" cy="929.5" r="1.9"/>
<circle cx="397.5" cy="928.2" r="1.9"/>
<circle cx="324.4" cy="926.7" r="1.9"/>
<circle cx="470" cy="911.5" r="1.9"/>
<circle cx="483.3" cy="912.9" r="1.9"/>
<circle cx="566.9" cy="929.7" r="1.9"/>
<circle cx="620.1" cy="929.9" r="1.9"/>
<circle cx="477.7" cy="911.7" r="1.9"/>
<circle cx="522.1" cy="910.9" r="1.9"/>
<circle cx="642.6" cy="930.1" r="1.9"/>
<circle cx="594" cy="927.8" r="1.9"/>
<circle cx="499.9" cy="911.9" r="1.9"/>
<circle cx="357.5" cy="928.5" r="1.9"/>
<circle cx="273.2" cy="909.8" r="1.9"/>
<circle cx="429" cy="911.7" r="1.9"/>
<circle cx="423.4" cy="927.2" r="1.9"/>
<circle cx="647.7" cy="930.1" r="1.9"/>
<circle cx="337.2" cy="911.2" r="1.9"/>
<circle cx="455.9" cy="929.4" r="1.9"/>
<circle cx="609.7" cy="928.4" r="1.9"/>
<circle cx="272.9" cy="925.4" r="1.9"/>
<circle cx="511.2" cy="928.6" r="1.9"/>
<circle cx="295.5" cy="926.8" r="1.9"/>
<circle cx="332.1" cy="910.1" r="1.9"/>
<circle cx="372.3" cy="928.8" r="1.9"/>
<circle cx="321" cy="927.8" r="1.9"/>
<circle cx="388.8" cy="926" r="1.9"/>
<circle cx="358.9" cy="927.8" r="1.9"/>
<circle cx="392.7" cy="911.3" r="1.9"/>
<circle cx="606.7" cy="913.4" r="1.9"/>
<circle cx="287.3" cy="926.4" r="1.9"/>
<circle cx="337.3" cy="926.3" r="1.9"/>
<circle cx="548.8" cy="910.8" r="1.9"/>
<circle cx="319.2" cy="925.5" r="1.9"/>
<circle cx="326.1" cy="926.1" r="1.9"/>
<circle cx="365.2" cy="910" r="1.9"/>
<circle cx="446.1" cy="911.3" r="1.9"/>
<circle cx="388.2" cy="909.4" r="1.9"/>
<circle cx="453.7" cy="911.6" r="1.9"/>
<circle cx="335.8" cy="911.4" r="1.9"/>
<circle cx="523.8" cy="912.1" r="1.9"/>
<circle cx="495.5" cy="927.9" r="1.9"/>
<circle cx="372.8" cy="926" r="1.9"/>
<circle cx="620.7" cy="913.1" r="1.9"/>
<circle cx="630.5" cy="913.4" r="1.9"/>
<circle cx="495.7" cy="910.6" r="1.9"/>
<circle cx="484.2" cy="928.1" r="1.9"/>
<circle cx="315.6" cy="909.5" r="1.9"/>
<circle cx="368.2" cy="927.7" r="1.9"/>
<circle cx="553.8" cy="928.1" r="1.9"/>
<circle cx="539.4" cy="911.5" r="1.9"/>
<circle cx="565.4" cy="928.3" r="1.9"/>
<circle cx="539.7" cy="911.1" r="1.9"/>
<circle cx="334.5" cy="927.9" r="1.9"/>
<circle cx="394" cy="911.5" r="1.9"/>
<circle cx="390.6" cy="910.7" r="1.9"/>
<circle cx="317.7" cy="927.4" r="1.9"/>
<circle cx="519.1" cy="911.9" r="1.9"/>
<circle cx="380.4" cy="911.5" r="1.9"/>
<circle cx="481.4" cy="911.2" r="1.9"/>
<circle cx="595.7" cy="911.3" r="1.9"/>
<circle cx="628.7" cy="912.8" r="1.9"/>
<circle cx="467.8" cy="912.8" r="1.9"/>
<circle cx="449.2" cy="926.6" r="1.9"/>
<circle cx="635.6" cy="912.4" r="1.9"/>
<circle cx="479.6" cy="928.3" r="1.9"/>
<circle cx="589.1" cy="912.9" r="1.9"/>
<circle cx="617.6" cy="911.6" r="1.9"/>
<circle cx="313.3" cy="928.1" r="1.9"/>
<circle cx="570.4" cy="927.6" r="1.9"/>
<circle cx="352.7" cy="909.9" r="1.9"/>
<circle cx="545.9" cy="912.7" r="1.9"/>
<circle cx="398.7" cy="927.2" r="1.9"/>
<circle cx="528.4" cy="911.5" r="1.9"/>
<circle cx="469" cy="927.8" r="1.9"/>
<circle cx="562.3" cy="928.5" r="1.9"/>
<circle cx="503.7" cy="927.3" r="1.9"/>
<circle cx="641.8" cy="913.5" r="1.9"/>
<circle cx="425.5" cy="910.4" r="1.9"/>
<circle cx="511.2" cy="911.1" r="1.9"/>
<circle cx="346.5" cy="926.6" r="1.9"/>
<circle cx="294.4" cy="928" r="1.9"/>
<circle cx="324.6" cy="910.2" r="1.9"/>
<circle cx="371.4" cy="927.9" r="1.9"/>
<circle cx="465.8" cy="928.5" r="1.9"/>
<circle cx="299.9" cy="926.9" r="1.9"/>
<circle cx="386.6" cy="927" r="1.9"/>
<circle cx="592.7" cy="912.4" r="1.9"/>
<circle cx="502.5" cy="929.4" r="1.9"/>
<circle cx="438.4" cy="928.5" r="1.9"/>
<circle cx="647.2" cy="912" r="1.9"/>
<circle cx="532.4" cy="927.3" r="1.9"/>
<circle cx="371.3" cy="927.3" r="1.9"/>
<circle cx="294.9" cy="909.6" r="1.9"/>
<circle cx="630" cy="928.3" r="1.9"/>
<circle cx="353.9" cy="910.5" r="1.9"/>
<circle cx="588.9" cy="912.9" r="1.9"/>
<circle cx="275.3" cy="926" r="1.9"/>
<circle cx="319.1" cy="926.1" r="1.9"/>
<circle cx="444.9" cy="911" r="1.9"/>
<circle cx="513.7" cy="911.7" r="1.9"/>
<circle cx="325.9" cy="911.4" r="1.9"/>
<circle cx="321.5" cy="909.2" r="1.9"/>
<circle cx="649.3" cy="913.6" r="1.9"/>
<circle cx="293.7" cy="925.3" r="1.9"/>
<circle cx="549.5" cy="928.2" r="1.9"/>
<circle cx="379.7" cy="912.2" r="1.9"/>
<circle cx="505" cy="928.7" r="1.9"/>
<circle cx="353" cy="926.8" r="1.9"/>
<circle cx="352.4" cy="927.5" r="1.9"/>
<circle cx="447.7" cy="912.7" r="1.9"/>
<circle cx="447.2" cy="910.9" r="1.9"/>
<circle cx="235.1" cy="869.5" r="1.9"/>
<circle cx="236" cy="875.5" r="1.9"/>
<circle cx="240" cy="902" r="1.9"/>
<text x="23.3" y="1106.8" font-size="60" font-weight="bold" text-anchor="start">C</text>
<path d="M212.5 1090.5 V1458.4" stroke="#000" stroke-width="1.3"/>
<path d="M209.1 1457.8 H653" stroke="#000" stroke-width="1.3"/>
<path d="M205.5 1437.2H212.5M205.5 1396.4H212.5M205.5 1355.7H212.5M205.5 1314.9H212.5M205.5 1274.2H212.5M205.5 1233.4H212.5M205.5 1192.6H212.5M205.5 1151.9H212.5M205.5 1111.1H212.5M209 1416.8H212.5M209 1376.1H212.5M209 1335.3H212.5M209 1294.5H212.5M209 1253.8H212.5M209 1213H212.5M209 1172.3H212.5M209 1131.5H212.5M209 1090.7H212.5M242.4 1457.8V1465.8M302.4 1457.8V1465.8M362.5 1457.8V1465.8M422.5 1457.8V1465.8M482.6 1457.8V1465.8M542.6 1457.8V1465.8M602.7 1457.8V1465.8M662.8 1457.8V1465.8M212.4 1457.8V1462.8M272.4 1457.8V1462.8M332.5 1457.8V1462.8M392.5 1457.8V1462.8M452.6 1457.8V1462.8M512.6 1457.8V1462.8M572.7 1457.8V1462.8M632.7 1457.8V1462.8" stroke="#000" stroke-width="1.3"/>
<text x="199.6" y="1441.6" font-size="17.5" font-weight="bold" text-anchor="end">0</text>
<path transform="translate(180.1 1400.8) scale(0.00854 -0.00854)" d="M530 0V1170L170 959V1180L545 1409H810V0Z"/>
<text x="189.9" y="1400.8" font-size="17.5" font-weight="bold" xml:space="preserve">0</text>
<text x="199.6" y="1360.1" font-size="17.5" font-weight="bold" text-anchor="end">20</text>
<text x="199.6" y="1319.3" font-size="17.5" font-weight="bold" text-anchor="end">30</text>
<text x="199.6" y="1278.6" font-size="17.5" font-weight="bold" text-anchor="end">40</text>
<text x="199.6" y="1237.8" font-size="17.5" font-weight="bold" text-anchor="end">50</text>
<text x="199.6" y="1197" font-size="17.5" font-weight="bold" text-anchor="end">60</text>
<text x="199.6" y="1156.3" font-size="17.5" font-weight="bold" text-anchor="end">70</text>
<text x="199.6" y="1115.5" font-size="17.5" font-weight="bold" text-anchor="end">80</text>
<text x="242.4" y="1484" font-size="17.5" font-weight="bold" text-anchor="middle">0</text>
<path transform="translate(297.6 1484) scale(0.00854 -0.00854)" d="M530 0V1170L170 959V1180L545 1409H810V0Z"/>
<text x="362.5" y="1484" font-size="17.5" font-weight="bold" text-anchor="middle">2</text>
<text x="422.5" y="1484" font-size="17.5" font-weight="bold" text-anchor="middle">3</text>
<text x="482.6" y="1484" font-size="17.5" font-weight="bold" text-anchor="middle">4</text>
<text x="542.6" y="1484" font-size="17.5" font-weight="bold" text-anchor="middle">5</text>
<text x="602.7" y="1484" font-size="17.5" font-weight="bold" text-anchor="middle">6</text>
<text x="164.3" y="1255.8" font-size="25.2" font-weight="bold" text-anchor="middle" transform="rotate(-90 164.3 1255.75)">Light Transmission</text>
<text x="306.6" y="1517.4" font-size="23" font-weight="bold" letter-spacing="0.6">Time (minutes at 37</text>
<text x="533.8" y="1503.2" font-size="12.5" font-weight="bold">0</text>
<text x="541.3" y="1517.4" font-size="23" font-weight="bold" letter-spacing="0.6">C)</text>
<text x="389" y="1129.6" font-size="20" font-weight="bold" text-anchor="start">0</text>
<text x="404.8" y="1129.6" font-family="Liberation Serif" font-weight="normal" font-size="20">μ</text>
<text x="415.9" y="1129.6" font-size="20" font-weight="bold" text-anchor="start">M (control)</text>
<text x="383.5" y="1245.5" font-size="20" font-weight="bold" text-anchor="start">0.5</text>
<text x="415.9" y="1245.5" font-family="Liberation Serif" font-weight="normal" font-size="20">μ</text>
<text x="426.9" y="1245.5" font-size="20" font-weight="bold" xml:space="preserve">M SCAN added at </text>
<path transform="translate(599.1 1245.5) scale(0.00977 -0.00977)" d="M530 0V1170L170 959V1180L545 1409H810V0Z"/>
<text x="610.2" y="1245.5" font-size="20" font-weight="bold" xml:space="preserve"> min</text>
<text x="382" y="1314" font-size="20" font-weight="bold" text-anchor="start">0.5</text>
<text x="414.4" y="1314" font-family="Liberation Serif" font-weight="normal" font-size="20">μ</text>
<text x="425.4" y="1314" font-size="20" font-weight="bold" text-anchor="start">M SCAN present from start</text>
<path d="M379 1237.2 L334.1 1237.2" stroke="#000" stroke-width="1.6"/>
<path d="M323.6 1237.2 L334.1 1233.9 L334.1 1240.5 Z" fill="#000"/>
<path d="M375.5 1308.9 L290.1 1386.1" stroke="#000" stroke-width="1.6"/>
<path d="M281.9 1393.5 L288 1383.8 L292.1 1388.4 Z" fill="#000"/>
<path d="M243.1 1427.6h0M244.9 1424.9h0M247.5 1421.9h0M249.6 1417.9h0M251.4 1414.7h0M251.7 1411.5h0M252.7 1407.3h0M253.4 1404.7h0M254.4 1399.9h0M255.5 1395.5h0M256 1391.9h0M256.9 1389.1h0M257.8 1383.5h0M259 1379.9h0M259.3 1375.8h0M260.4 1371.7h0M261.3 1368.1h0M262 1363h0M262.3 1358.2h0M263.3 1353.5h0M263.5 1351.9h0M263.9 1347.7h0M265 1343.1h0M265.3 1339.4h0M265.6 1335.4h0M266.5 1330.1h0M266.7 1327.6h0M267.1 1321.2h0M268.7 1318.4h0M268.4 1313.9h0M268.7 1311.9h0M269.9 1305h0M270.3 1302.7h0M270.6 1299.2h0M271.9 1295.1h0M271.9 1291.3h0M273.1 1286.7h0M273.4 1285.6h0M273.5 1280.8h0M274.4 1279.2h0M274.7 1276.3h0M275.2 1275.6h0M275.4 1273.9h0M276.5 1270h0M276.6 1266.6h0M276.8 1263.7h0M279.2 1261.7h0M279.8 1259h0M280.1 1258.7h0M279.2 1255h0M280.9 1253.2h0M281.6 1251.8h0M280.7 1249.2h0M282.4 1249.1h0M282.6 1247.5h0M284.6 1244h0M284.5 1242.2h0M286.2 1240.8h0M286.1 1238.2h0M287 1235.1h0M287.8 1231.7h0M287.4 1229.5h0M288.2 1227.9h0M289.4 1226.8h0M291.2 1222.7h0M291.7 1221.4h0M293.3 1218.3h0M294.4 1219.2h0M296.9 1216.3h0M297.7 1211.7h0M299.4 1213.1h0M301.5 1208.8h0M301.5 1209.9h0M302.1 1208.3h0M303.7 1207.2h0M304.7 1206.9h0M305.7 1202.3h0M306.2 1200.8h0M307.2 1203.3h0M308.4 1199.9h0M308.1 1200.2h0M309.1 1197.9h0M309.8 1196h0M309.5 1198.6h0M311.6 1197.1h0M312.2 1195.5h0M314.5 1192.9h0M315 1192.5h0M317.2 1190.9h0M318.3 1190.3h0M318.7 1189.3h0M320.5 1190.6h0M321 1188.6h0M322.3 1189.4h0M322.4 1188.6h0M323.8 1187.1h0M325.3 1187h0M326.2 1187.4h0M327 1182.7h0M329.2 1186.2h0M328.7 1182.1h0M330.3 1182.9h0M332.3 1181h0M332 1182.3h0M333.6 1181.5h0M335.2 1180.7h0M335.9 1180.7h0M337.3 1177.5h0M338.6 1178.9h0M338.5 1179.3h0M342.1 1177.9h0M342.2 1174.9h0M343.3 1175.1h0M342.8 1174.7h0M344.8 1176.7h0M346.8 1174.5h0M348.7 1173.1h0M351.1 1174h0M351.8 1171.9h0M352.3 1171.3h0M353.4 1172.9h0M356.2 1170.8h0M356.9 1169.4h0M358.7 1168.6h0M359.7 1169.9h0M360.9 1169.6h0M362.4 1168.8h0M363.5 1170.9h0M365.9 1168.5h0M366.9 1166.9h0M369.2 1166.7h0M370.5 1168h0M372.2 1168.6h0M372.5 1168.5h0M374.3 1165.3h0M377.1 1166h0M378.4 1167.2h0M379.5 1166.7h0M379.8 1163.2h0M382.3 1162.4h0M382.5 1164.4h0M383.9 1161.4h0M385.5 1164.3h0M386.5 1163.7h0M389 1163.7h0M390 1161.3h0M391.7 1163h0M393 1163.1h0M393.7 1160.5h0M395.6 1159.2h0M396.1 1162.7h0M397.5 1160.2h0M399.2 1159.8h0M400.2 1159.7h0M402.5 1159.1h0M404.1 1157.6h0M406.4 1158.5h0M407.9 1156h0M410 1157.1h0M411.3 1158.2h0M412 1156.3h0M413.4 1156.2h0M413.6 1155.6h0M414.8 1157.2h0M416.3 1154.6h0M418.3 1154.6h0M417.8 1151.9h0M419.9 1153.2h0M421.3 1153.8h0M422.4 1155.9h0M424.1 1153.9h0M425.8 1151.6h0M428 1152.5h0M429.4 1151.6h0M430.7 1155.1h0M434.1 1151.3h0M434.6 1152.4h0M437 1149.8h0M438.9 1152.2h0M441 1151.3h0M441.1 1149.4h0M442.9 1148.4h0M444.6 1150.3h0M446.3 1151.6h0M446.3 1148.5h0M448.4 1147.3h0M449.7 1148.6h0M450.8 1147.5h0M451.3 1148h0M453.9 1146.9h0M453.9 1148.7h0M455.7 1146.4h0M457.5 1147.1h0M459.2 1146.9h0M459.6 1147.6h0M460.8 1147.6h0M462.9 1146.8h0M463.5 1145.5h0M464.3 1147.3h0M466.1 1147.3h0M466.7 1146.8h0M469 1146.1h0M470.1 1146.8h0M471.3 1145.9h0M474 1146.1h0M473.9 1144.2h0M474.7 1142.7h0M477.3 1144.7h0M477.2 1142.9h0M479.1 1145.7h0M481.2 1143.3h0M482 1140.8h0M483.5 1142.7h0M484.5 1144.8h0M486.6 1143.8h0M487.1 1139.9h0M489.8 1143.4h0M490.3 1140.8h0M491.8 1142.3h0M491.8 1142.5h0M492.9 1140.9h0M495.3 1142.4h0M497.1 1140.7h0M497.8 1142.4h0M499.3 1141.7h0M500.7 1140.3h0M502.6 1141.1h0M503.4 1141.5h0M505.4 1141.2h0M506.3 1141.2h0M508.5 1138.4h0M509.8 1140.2h0M510.3 1140h0M513 1139.8h0M514.2 1140.1h0M515.3 1140.6h0M516.4 1138.5h0M518.6 1137.9h0M518.6 1140h0M520.7 1137.6h0M522.2 1139.9h0M523.8 1137.7h0M524 1137.8h0M526.6 1137.3h0M526.8 1137.3h0M529.3 1136.3h0M529.6 1139.9h0M530.8 1141.4h0M532.5 1135.4h0M533.5 1139.7h0M535.7 1136.2h0M538.5 1138.1h0M538.5 1136.4h0M541 1137.3h0M541.7 1136.3h0M543.5 1136.2h0M545.5 1137.1h0M545.4 1137h0M548.2 1136.8h0M547.8 1138.1h0M549.2 1138.5h0M550.8 1136.6h0M552.5 1137.2h0M554 1136.9h0M554.1 1134.1h0M555.8 1136.7h0M556.2 1135h0M558.4 1134.8h0M559.1 1136.3h0M560.2 1134h0M562.2 1136.2h0M563.6 1137.2h0M564.2 1135.8h0M566.1 1135.2h0M566.4 1135.6h0M569.6 1135.6h0M570.1 1137.8h0M571 1133.9h0M573.3 1135.4h0M574.2 1135h0M575.3 1138.1h0M577.8 1136.9h0M578 1136h0M579.3 1133.7h0M581.5 1136.1h0M581.7 1134h0M583.2 1133.8h0M583.9 1135.5h0M585.6 1133.6h0M586.3 1135.3h0M588.2 1135.9h0M590 1132.6h0M591.1 1135.6h0M592.4 1135.3h0M594.5 1138.6h0M595.8 1137.5h0M597 1134.1h0M597.7 1135.3h0M600.3 1134h0M601.3 1135.2h0M600.6 1134h0M603.3 1134h0M605.5 1135.4h0M606 1135.6h0M608.3 1133.6h0M609 1135.1h0M609.9 1135.4h0M611.8 1136h0M613.3 1136.1h0M614.7 1136.1h0M617 1133.1h0M617.5 1133.6h0M620 1135.4h0M622.6 1134.5h0M622.8 1134.5h0M626.1 1135.7h0M626.8 1133h0M627.7 1133.1h0M628.3 1135h0M630.5 1130.1h0M631.4 1133.8h0M633.1 1133.3h0M635.6 1133.7h0M637.4 1134.8h0M638.2 1136h0M639.9 1132.6h0M641.2 1133.3h0M642 1133.4h0M643.3 1132.8h0M645.6 1133.9h0M645.6 1134.7h0M647.4 1134.6h0M649.2 1132.1h0M650.6 1132.6h0M651.3 1132.3h0M654.1 1135.1h0M654.6 1134.4h0" stroke="#000" stroke-width="4.2" stroke-linecap="round" fill="none"/>
<path d="M284.8 1241.9h0M286.1 1239.7h0M286.9 1237.8h0M287.3 1236.5h0M287.9 1235.4h0M288 1230.7h0M289 1231.4h0M291.2 1227.4h0M290.7 1228.1h0M292 1223h0M294.2 1219.8h0M295.5 1219.1h0M297.6 1218.8h0M297.6 1217.6h0M299.2 1213.5h0M301.4 1211.7h0M302.7 1209.6h0M304.4 1209.7h0M305.4 1207.8h0M307.1 1205.1h0M308 1202.9h0M309.9 1201.3h0M310.7 1198h0M313.8 1196.6h0M313.9 1197.3h0M316.5 1197.9h0M318.7 1193h0M319.9 1194.4h0M321.5 1192.7h0M323.1 1190h0M325 1191.4h0M326.9 1185.8h0M328.8 1188.5h0M330.7 1187.4h0M331.3 1186.3h0M333.4 1183.6h0M334.8 1184.6h0M336.3 1183.7h0M338.3 1181.5h0M340.1 1181.8h0M340.3 1177.9h0M343 1178.4h0M345.5 1177.5h0M346.3 1177.1h0M347.9 1177h0M351 1175.1h0M352.3 1175.6h0M354.1 1174h0M357.6 1174.4h0M358.7 1172.3h0M358.7 1173h0M361.2 1172.8h0M362 1171.3h0M364.9 1171.5h0M366 1171.2h0M367.2 1172.7h0M369.3 1169.1h0M371.5 1169.8h0M373 1171.8h0M374.1 1170h0M376 1170.3h0M378.6 1168.4h0M380.9 1167.3h0M381.6 1168.3h0M384.4 1166.6h0M386.5 1166.8h0M388.4 1162.6h0M391.6 1164h0M392.4 1161.5h0M393.3 1165.3h0M395.7 1162.9h0M397.6 1163.9h0M398.9 1165.4h0M401.1 1161.5h0M403.9 1163.1h0M405.5 1160.8h0M406.5 1161h0M409.2 1158.3h0M411.1 1160.1h0M412.6 1160.8h0M414.1 1161.4h0M415.5 1158.4h0M417.6 1158.4h0M417.8 1158h0M419.8 1159.9h0M421.7 1154.3h0M422.9 1157.8h0M425.5 1155.4h0M426.5 1156.3h0M428.7 1155.5h0M431.4 1154.5h0M432.3 1153.1h0M434 1152.2h0M436.4 1153.4h0M438.7 1151.5h0M440.1 1154.5h0M442.7 1153.4h0M444.4 1153.4h0M445.8 1153.1h0M447.1 1151.6h0M448.8 1150.9h0M450.8 1151.2h0M452.8 1151.6h0M454.8 1151.1h0M456.5 1152h0M457.5 1149.2h0M459.3 1149.4h0M461.4 1151.8h0M463.5 1149.7h0M465.3 1149.7h0M467.5 1149.2h0M468.6 1146.4h0M470.4 1148.7h0M472.9 1147.9h0M474.2 1147.3h0M476.5 1146.2h0M477.6 1147.3h0M478.8 1146.5h0M480.5 1146.5h0M481.3 1147.3h0M483.2 1144.9h0M485 1144.8h0M486.2 1145.3h0M488.3 1145.4h0M489.4 1142.2h0M491.5 1144.8h0M494 1144.1h0M495.9 1144.8h0M497.8 1145.4h0M500 1144.9h0M501.5 1144.4h0M502.6 1143.5h0M504.2 1142.1h0M506.9 1143.3h0M507.7 1141.3h0M510.3 1143.8h0M511.1 1142.6h0M513.1 1139.9h0M515.2 1141h0M516.6 1144.4h0M518.2 1142.1h0M519.8 1141.4h0M521 1141.1h0M522.3 1139.8h0M525.6 1138.9h0M527.3 1141.2h0M528.6 1141.2h0M531.5 1139.1h0M531.4 1141h0M533.7 1139.7h0M535.9 1137.3h0M537 1140.1h0M540.3 1139.1h0M541 1139.1h0M543 1139.1h0M544.7 1138.7h0M546.5 1138.9h0M548.2 1140.1h0M550.6 1139.4h0M551.6 1137.4h0M552.8 1139.2h0M554.4 1140.2h0M556.2 1140.1h0M558.4 1136.1h0M560.4 1140.4h0M562.3 1138h0M564.1 1138.8h0M565.7 1136.9h0M566.7 1138.1h0M569.5 1139.8h0M569.4 1139.6h0M571.9 1136.4h0M575.5 1139.3h0M576.4 1136.4h0M577.6 1138.2h0M579 1139.5h0M581.6 1136.7h0M582.8 1137.5h0M583.7 1137h0M587.2 1138.1h0M587.8 1137.3h0M589.6 1140.3h0M592.2 1137.7h0M592.8 1139.3h0M595.8 1137.2h0M597 1138.3h0M598.2 1138.4h0M599.7 1137.9h0M602.3 1135.6h0M603.6 1137.1h0M604.9 1135.9h0M607.6 1139.8h0M609.4 1139.1h0M612.4 1139.9h0M613.7 1136.5h0M615.2 1139.7h0M616.3 1138.1h0M618.9 1139.2h0M621.1 1138h0M623.2 1137h0M625.4 1136.7h0M626.1 1137.5h0M627.5 1137.2h0M629.6 1137h0M631.2 1138.4h0M633.2 1137.4h0M635.7 1138.4h0M637.8 1139.3h0M638.3 1137.7h0M641 1137.5h0M642.4 1136.5h0M645.1 1137.3h0M646.6 1137.6h0M647.3 1135.9h0M648.5 1137.8h0M652.2 1136.1h0M652.8 1136.8h0M655.2 1138.1h0" stroke="#000" stroke-width="4.2" stroke-linecap="round" fill="none"/>
<path d="M281.7 1254.2h0M283.1 1251.2h0M284.2 1247.7h0M284 1246h0M285.4 1243.6h0M285.8 1239.2h0M286.8 1236.7h0M287.7 1235.3h0M287.6 1232.5h0M288.2 1232.1h0M288.9 1230h0M289.2 1228.2h0M290.7 1223.5h0M292.7 1220.6h0M293.7 1217.7h0M294.3 1218.3h0M297 1214.7h0M298.6 1213.1h0M300.9 1210.9h0M302.1 1208.2h0M303.4 1205.4h0M305.2 1206.9h0M306.9 1203.2h0M307.8 1201.8h0M310 1197.1h0M310.9 1196h0M312.3 1195.5h0M315.1 1193.7h0M316.2 1192.2h0M317.6 1192.2h0M319.4 1191h0M321.5 1188.2h0M324.2 1187.3h0M325.2 1185.6h0M327 1186.1h0M329.8 1181h0M331.4 1181.3h0M332.7 1180h0M335.5 1178.2h0M337.2 1179.6h0M339.9 1177.6h0M343 1176.8h0M343.7 1175.6h0M346.4 1173.7h0M347.5 1173.7h0M351.2 1172.8h0M353.7 1169.6h0M356.4 1171.1h0M359.6 1169.9h0M361.1 1168.5h0M363.6 1168h0M364.4 1167.1h0M368.1 1167.5h0M370.5 1165.8h0M372.9 1166.6h0M376 1164h0M379.1 1163.7h0M381.2 1165.5h0M384.6 1161.9h0M386.1 1164.3h0M387.1 1163.7h0M390.1 1162.7h0M393.2 1161.9h0M395.5 1160.6h0" stroke="#000" stroke-width="4" stroke-linecap="round" fill="none"/>
<path d="M247.7 1429h0M249.7 1425.1h0M250.3 1422.6h0M252.3 1420h0M253.6 1416.2h0M255.1 1413.1h0M255.7 1409.8h0M256.5 1407.1h0M257.5 1405.7h0M258.3 1400.5h0M259.4 1396.5h0M259.9 1393.2h0M261.3 1388.8h0M261.8 1387.7h0M263 1383.7h0M263.7 1379h0M264.8 1375.4h0M265.4 1373.3h0M266.4 1368.8h0M267.4 1367h0M268.5 1362.7h0M269.3 1359.2h0M270.3 1356.8h0M270.8 1353h0M271.4 1350.2h0M272.2 1346.9h0M272.5 1343.8h0M273.8 1341.9h0M274.4 1338.3h0M275 1336h0M275.8 1332.3h0M276.4 1329.2h0M276.9 1327.3h0M278.2 1323.3h0M278.6 1319.3h0M279 1316h0M280.1 1314h0M280.1 1310.7h0M280.7 1306h0M281.7 1302.1h0M282.6 1299.8h0M283.4 1295.5h0M284.4 1293.2h0M285.3 1289.3h0M286.1 1286.3h0M288 1283.9h0M289 1279.7h0M290.4 1276h0M291.6 1272.9h0M293 1269h0M293.9 1266.3h0M295.6 1263.4h0M297 1259.2h0M298.3 1257.2h0M301.1 1254.4h0M302.1 1251h0M303.6 1252.4h0M303.2 1248.6h0M306 1243.9h0M306.2 1243.7h0M308.5 1242.8h0M310 1240.5h0M311.5 1241.8h0M313.7 1239.1h0M314.1 1235.8h0M315.8 1234.7h0M317.4 1234.4h0M318.8 1238.2h0M321.1 1240.1h0M320.6 1242.8h0M321.8 1245.4h0M321.5 1248.1h0M322.4 1246.5h0M323.8 1248.9h0M323.9 1250.2h0M324.8 1253.3h0M325.2 1256.1h0M325.4 1259.2h0M326.1 1261.9h0M326.7 1265.9h0M326.9 1268.8h0M327.3 1270.6h0M327.7 1275.1h0M328.3 1277.4h0M329.3 1280.9h0M329.5 1285.1h0M330.2 1288.2h0M330.3 1290.8h0M330.7 1293h0M331.6 1297.2h0M331.6 1302h0M332.6 1304.6h0M332.4 1308.9h0M332.6 1311.2h0M332.9 1314.4h0M333.5 1317.5h0M333.6 1319.4h0M334.3 1322h0M333.9 1327.5h0M334.7 1329.1h0M334.8 1333.4h0M334.9 1336.6h0M335.6 1339.1h0M335.9 1341.5h0M336.3 1344.5h0M336.9 1348.7h0M337 1353h0M337.2 1355.5h0M337.8 1357.3h0M338.5 1360.9h0M338.5 1362.2h0M339.4 1366h0M339.7 1370.6h0M340.4 1374.4h0M340.6 1378h0M341 1382.1h0M341.6 1385.4h0M342.3 1389.2h0M342.6 1391.8h0M343.2 1393.4h0M343.9 1398.2h0M343.6 1401.6h0M344.2 1403.9h0M344.6 1405.5h0M345.2 1410.1h0M345.3 1412.2h0M346.2 1415.3h0M346.6 1418.1h0M346.9 1421.1h0M348 1423.4h0M348.6 1429.5h0M349.6 1431.9h0M353.2 1434.5h0" stroke="#000" stroke-width="4" stroke-linecap="round" fill="none"/>
<path d="M297.9 1257.5h0M298.9 1255.4h0M298.1 1255.1h0M300.1 1252.1h0M300.5 1248.9h0M300.9 1250.6h0M302.6 1249.2h0M303.8 1248.6h0M304.5 1248.1h0M307 1247h0M307.3 1242.7h0M308.6 1243.2h0M310.2 1241.3h0M313.1 1242.3h0M313.6 1241.7h0M314.1 1237.1h0M316 1239.9h0M317.9 1239.1h0M318.6 1238.7h0M320.6 1240.4h0M321.1 1243.1h0" stroke="#000" stroke-width="4.4" stroke-linecap="round" fill="none"/>
<path d="M249.8 1431.6h0M251.5 1429.5h0M253.3 1427.1h0M254.6 1425.7h0M256.1 1422.4h0M257 1420.8h0M259 1418.3h0M260.3 1416.9h0M261.3 1414.2h0M262.5 1410h0M263.1 1408.4h0M263.2 1405.9h0M264.2 1401.6h0M264.2 1400.3h0M264.6 1395.8h0M265.3 1391.6h0M266.1 1390h0M266.6 1386.3h0M266.4 1384.8h0M267 1381.2h0M267.3 1377.8h0M267.6 1374.8h0M267.9 1372h0M268.6 1369.1h0M268.9 1366.1h0M269.6 1363.4h0M269.9 1361.6h0M271.4 1364.1h0M272.1 1367.4h0M273 1369.9h0M273.6 1374.3h0M274.6 1376.7h0M274.9 1380.1h0M275.7 1382.8h0M276.1 1385.2h0M275.9 1387.8h0M277.6 1391.1h0M278 1395h0M278.2 1397h0M278.6 1399.7h0M279.7 1402.9h0M280 1406h0M280.3 1407.7h0M281.1 1411.6h0M281.6 1414.4h0M282.1 1416.6h0M282.9 1418.2h0M283.6 1420.7h0M284.7 1422.9h0M285.2 1426.5h0M286.3 1428.5h0M287.2 1431.7h0M288 1433.7h0M288.9 1436h0M291.2 1434.6h0M293.4 1432.5h0M294.1 1430.5h0M296 1427.7h0M297.6 1426.3h0" stroke="#000" stroke-width="4" stroke-linecap="round" fill="none"/>
<path d="M297 1425.5 L299.5 1425.5 L302 1426.8 L304.5 1425.9 L307 1426.7 L309.5 1426.4 L312 1425.2 L314.5 1426.8 L317 1426.7 L319.5 1425.5 L322 1425.6 L324.5 1425.6 L327 1426.8 L329.5 1426 L332 1426.5 L334.5 1425.8 L337 1426 L339.5 1426.2 L342 1425.5 L344.5 1426.8 L347 1426.5 L349.5 1425.9 L352 1426.3 L354.5 1426 L357 1426.7 L359.5 1425.8 L362 1426.1 L364.5 1425.5 L367 1425.6 L369.5 1426.4 L372 1425.3 L374.5 1426.2 L377 1425.7 L379.5 1426.2 L382 1425.9 L384.5 1425.7 L387 1426.6 L389.5 1426.4 L392 1425.5 L394.5 1426.3 L397 1426.8 L399.5 1425.6 L402 1425.4 L404.5 1426.4 L407 1426.2 L409.5 1425.8 L412 1425.6 L414.5 1426 L417 1425.6 L419.5 1426.2 L422 1425.7 L424.5 1426.5 L427 1426.3 L429.5 1426.2 L432 1425.2 L434.5 1425.4 L437 1426.3 L439.5 1425.6 L442 1426.7 L444.5 1425.8 L447 1426.7 L449.5 1426.8 L452 1426.8 L454.5 1426.3 L457 1425.3 L459.5 1426.8 L462 1425.7 L464.5 1426.9 L467 1425.7 L469.5 1425.2 L472 1425.2 L474.5 1425.5 L477 1425.9 L479.5 1426 L482 1425.7 L484.5 1425.9 L487 1426.8 L489.5 1425.3 L492 1426.6 L494.5 1425.2 L497 1425.3 L499.5 1426.4 L502 1425.1 L504.5 1426.4 L507 1425.1 L509.5 1426.3 L512 1425.2 L514.5 1425.1 L517 1425 L519.5 1425.5 L522 1426.1 L524.5 1425.2 L527 1425.5 L529.5 1425 L532 1425.6 L534.5 1425.4 L537 1425.5 L539.5 1424.4 L542 1424.8 L544.5 1425.3 L547 1424.4 L549.5 1424.9 L552 1424.9 L554.5 1423.9 L557 1424.2 L559.5 1424.9 L562 1424.6 L564.5 1424.9 L567 1425.4 L569.5 1423.9 L572 1424.6 L574.5 1423.7 L577 1423.6 L579.5 1423.6 L582 1424 L584.5 1424.9 L587 1424.2 L589.5 1423.8 L592 1423.1 L594.5 1424.3 L597 1424.2 L599.5 1423.7 L602 1423.3 L604.5 1423.9 L607 1423.7 L609.5 1423.2 L612 1423.4 L614.5 1424.2 L617 1423.3 L619.5 1424.2 L622 1423.3 L624.5 1423.2 L627 1422.3 L629.5 1423.2 L632 1422.7 L634.5 1422.7 L637 1422.3 L639.5 1422.4 L642 1423.3 L644.5 1422.8 L647 1423.5 L649.5 1423.3 L652 1422.2 L654.5 1423.1 L654.5 1430.2 L652 1430.8 L649.5 1430.6 L647 1430.7 L644.5 1430.6 L642 1429.5 L639.5 1430.5 L637 1430.6 L634.5 1430.2 L632 1429.7 L629.5 1430.5 L627 1429.9 L624.5 1430.5 L622 1429.7 L619.5 1430 L617 1430.1 L614.5 1430.3 L612 1431.4 L609.5 1430.6 L607 1430.7 L604.5 1430.6 L602 1431.7 L599.5 1430.2 L597 1430.7 L594.5 1431.4 L592 1430.4 L589.5 1430.5 L587 1430.8 L584.5 1430.8 L582 1431.3 L579.5 1430.8 L577 1430.4 L574.5 1431.6 L572 1431.8 L569.5 1431.9 L567 1430.8 L564.5 1431.8 L562 1431.3 L559.5 1432 L557 1430.6 L554.5 1431.1 L552 1432.2 L549.5 1430.8 L547 1430.8 L544.5 1432 L542 1430.8 L539.5 1432 L537 1432.3 L534.5 1430.9 L532 1431.8 L529.5 1432.3 L527 1430.9 L524.5 1430.8 L522 1430.7 L519.5 1431.7 L517 1430.9 L514.5 1431.5 L512 1432 L509.5 1430.9 L507 1432.6 L504.5 1431.2 L502 1432.1 L499.5 1432.7 L497 1432.2 L494.5 1431.3 L492 1431.2 L489.5 1431.7 L487 1432.6 L484.5 1432.6 L482 1431 L479.5 1431.6 L477 1432.4 L474.5 1432.4 L472 1431.5 L469.5 1430.9 L467 1432.4 L464.5 1432.3 L462 1432.6 L459.5 1431.4 L457 1431.5 L454.5 1431.3 L452 1431.4 L449.5 1432.3 L447 1432.1 L444.5 1432.1 L442 1431.7 L439.5 1432.1 L437 1432.1 L434.5 1431.7 L432 1432.3 L429.5 1431 L427 1432.6 L424.5 1430.9 L422 1431.4 L419.5 1432 L417 1432.5 L414.5 1431.2 L412 1431.9 L409.5 1431.2 L407 1431.2 L404.5 1432.5 L402 1431.6 L399.5 1431.1 L397 1431.2 L394.5 1432.5 L392 1431.4 L389.5 1431.9 L387 1431.6 L384.5 1431.3 L382 1431.4 L379.5 1432 L377 1431 L374.5 1432.3 L372 1431.2 L369.5 1430.9 L367 1432.3 L364.5 1431.7 L362 1432.4 L359.5 1432.1 L357 1432.7 L354.5 1432.4 L352 1431.7 L349.5 1432.1 L347 1432.4 L344.5 1431.9 L342 1431.8 L339.5 1432.5 L337 1432.6 L334.5 1431.3 L332 1432.5 L329.5 1432.4 L327 1431.5 L324.5 1432.7 L322 1431.2 L319.5 1432.6 L317 1432.6 L314.5 1431.9 L312 1430.9 L309.5 1431.3 L307 1432.6 L304.5 1432.6 L302 1431.7 L299.5 1432 L297 1432.5Z" fill="#000"/>
<path d="M505 1432.1 L507.5 1432.3 L510 1432 L512.5 1431.7 L515 1431.7 L517.5 1433.3 L520 1432.7 L522.5 1433.7 L525 1433.8 L527.5 1433.5 L530 1433.9 L532.5 1434.1 L535 1433.9 L537.5 1433.5 L540 1434.4 L542.5 1434.7 L545 1434.8 L547.5 1434.3 L550 1434.4 L552.5 1434.8 L555 1434.7 L557.5 1434.5 L560 1434.4 L562.5 1434.9 L565 1434 L567.5 1433.7 L570 1434.4 L572.5 1434.1 L575 1434.9 L577.5 1434.4 L580 1433.7 L582.5 1434.3 L585 1433.9 L587.5 1434 L590 1433.8 L592.5 1434 L595 1433.7 L597.5 1434.2 L600 1433.9 L602.5 1433.7 L605 1434 L607.5 1433.8 L610 1434.5 L612.5 1433.6 L615 1434.8 L617.5 1433.9 L620 1433.8 L622.5 1434.7 L625 1434.1 L627.5 1434.8 L630 1434.4 L632.5 1434.9 L635 1434.1 L637.5 1433.9 L640 1434.2 L642.5 1434.1 L645 1434.3 L647.5 1433.8 L650 1434.2 L652.5 1433.7 L655 1434.1 L655 1438.5 L652.5 1438.7 L650 1439.3 L647.5 1438.8 L645 1438.4 L642.5 1439.2 L640 1438.1 L637.5 1438.1 L635 1439 L632.5 1439.1 L630 1438.2 L627.5 1438.3 L625 1439.2 L622.5 1439 L620 1439.1 L617.5 1438.6 L615 1438.4 L612.5 1439.4 L610 1438.3 L607.5 1438.5 L605 1439.1 L602.5 1438.5 L600 1438.3 L597.5 1439 L595 1438.3 L592.5 1439.1 L590 1438.7 L587.5 1438 L585 1438.2 L582.5 1438.9 L580 1439.3 L577.5 1438.8 L575 1438.1 L572.5 1438.2 L570 1438 L567.5 1439 L565 1439.3 L562.5 1438.9 L560 1438.4 L557.5 1438.2 L555 1438.4 L552.5 1438.4 L550 1439.2 L547.5 1438.9 L545 1438.6 L542.5 1438.3 L540 1439.2 L537.5 1438 L535 1439 L532.5 1438.4 L530 1438.5 L527.5 1437.8 L525 1437.8 L522.5 1438 L520 1437.4 L517.5 1437.5 L515 1437.2 L512.5 1437.7 L510 1438.1 L507.5 1437.4 L505 1436.9Z" fill="#000"/>
<circle cx="339.1" cy="1432.3" r="1.5"/>
<circle cx="414" cy="1431.7" r="1.5"/>
<circle cx="367.3" cy="1432.8" r="1.5"/>
<circle cx="497.4" cy="1432.7" r="1.5"/>
<circle cx="372.7" cy="1431.1" r="1.5"/>
<circle cx="408.8" cy="1432.2" r="1.5"/>
<circle cx="324.3" cy="1432.7" r="1.5"/>
<circle cx="429.4" cy="1432.2" r="1.5"/>
<circle cx="454.4" cy="1433.2" r="1.5"/>
<circle cx="313.2" cy="1431.2" r="1.5"/>
<circle cx="410.4" cy="1433.1" r="1.5"/>
<circle cx="417" cy="1431.8" r="1.5"/>
<circle cx="372.3" cy="1433.5" r="1.5"/>
<circle cx="383.3" cy="1432.9" r="1.5"/>
<circle cx="348" cy="1433.2" r="1.5"/>
<circle cx="400.7" cy="1431" r="1.5"/>
<circle cx="458.4" cy="1433.8" r="1.5"/>
<circle cx="507.3" cy="1434.3" r="1.5"/>
<circle cx="447.5" cy="1432.6" r="1.5"/>
<circle cx="355.8" cy="1433.5" r="1.5"/>
<circle cx="388" cy="1432.1" r="1.5"/>
<circle cx="324.6" cy="1433.1" r="1.5"/>
<circle cx="449.2" cy="1433.7" r="1.5"/>
<circle cx="332" cy="1431.7" r="1.5"/>
<circle cx="433.8" cy="1431.5" r="1.5"/>
<circle cx="486.1" cy="1434.2" r="1.5"/>
<circle cx="432.5" cy="1431.9" r="1.5"/>
<circle cx="418.1" cy="1433.7" r="1.5"/>
<circle cx="372.4" cy="1433.3" r="1.5"/>
<circle cx="426.3" cy="1434.2" r="1.5"/>
<circle cx="463" cy="1433.3" r="1.5"/>
<circle cx="414.4" cy="1434.1" r="1.5"/>
<circle cx="426.6" cy="1433.4" r="1.5"/>
<circle cx="365.2" cy="1431.4" r="1.5"/>
<circle cx="417.1" cy="1431.8" r="1.5"/>
<circle cx="503.6" cy="1431.8" r="1.5"/>
<circle cx="488.1" cy="1432.2" r="1.5"/>
<circle cx="340.3" cy="1433" r="1.5"/>
<circle cx="367.7" cy="1434.5" r="1.5"/>
<circle cx="429.7" cy="1431.4" r="1.5"/>
<circle cx="365.1" cy="1431.4" r="1.5"/>
<circle cx="403.6" cy="1432.8" r="1.5"/>
<circle cx="366.3" cy="1433.4" r="1.5"/>
<circle cx="393.4" cy="1433.9" r="1.5"/>
<circle cx="442.6" cy="1431.9" r="1.5"/>
<circle cx="474.3" cy="1431.1" r="1.5"/>
<circle cx="349.4" cy="1431.1" r="1.5"/>
<circle cx="499.8" cy="1432.9" r="1.5"/>
<circle cx="476.7" cy="1434.5" r="1.5"/>
<circle cx="319.2" cy="1434.2" r="1.5"/>
<circle cx="304.3" cy="1433.5" r="1.5"/>
<circle cx="466.6" cy="1432.3" r="1.5"/>
<circle cx="486.9" cy="1433.7" r="1.5"/>
<circle cx="404.5" cy="1432" r="1.5"/>
<circle cx="333.4" cy="1431.3" r="1.5"/>
<circle cx="413.7" cy="1432.8" r="1.5"/>
<circle cx="339.4" cy="1432.9" r="1.5"/>
<circle cx="316.7" cy="1432.1" r="1.5"/>
<circle cx="440.5" cy="1431.5" r="1.5"/>
<circle cx="409.8" cy="1431.5" r="1.5"/>
<circle cx="485.2" cy="1431.7" r="1.5"/>
<circle cx="495.6" cy="1434.2" r="1.5"/>
<circle cx="502.6" cy="1432" r="1.5"/>
<circle cx="443.1" cy="1431.2" r="1.5"/>
<circle cx="504.1" cy="1433.4" r="1.5"/>
<circle cx="307.8" cy="1431.5" r="1.5"/>
<circle cx="322.2" cy="1432.2" r="1.5"/>
<circle cx="496.8" cy="1433.8" r="1.5"/>
<circle cx="368.5" cy="1433.8" r="1.5"/>
<circle cx="302.2" cy="1432.9" r="1.5"/>
<circle cx="381.8" cy="1431.3" r="1.5"/>
<circle cx="493.1" cy="1433.3" r="1.5"/>
<circle cx="509.1" cy="1433.2" r="1.5"/>
<circle cx="430.4" cy="1431.4" r="1.5"/>
<circle cx="400" cy="1434.1" r="1.5"/>
<circle cx="417.3" cy="1433.2" r="1.5"/>
<circle cx="396.5" cy="1432.3" r="1.5"/>
<circle cx="302.5" cy="1431.8" r="1.5"/>
<circle cx="339.1" cy="1431.3" r="1.5"/>
<circle cx="311.4" cy="1433.6" r="1.5"/>
<circle cx="509" cy="1433.4" r="1.5"/>
<circle cx="474.4" cy="1431.7" r="1.5"/>
<circle cx="478.4" cy="1432.3" r="1.5"/>
<circle cx="479.5" cy="1431.8" r="1.5"/>
<circle cx="362.8" cy="1432.8" r="1.5"/>
<circle cx="347" cy="1431.9" r="1.5"/>
<circle cx="452.6" cy="1433.8" r="1.5"/>
<circle cx="506.4" cy="1433.3" r="1.5"/>
<circle cx="373.6" cy="1432.6" r="1.5"/>
<circle cx="423" cy="1433.1" r="1.5"/>
<circle cx="492.7" cy="1433" r="1.5"/>
<circle cx="501.9" cy="1432.7" r="1.5"/>
<circle cx="393.7" cy="1431.1" r="1.5"/>
<circle cx="368.1" cy="1432.7" r="1.5"/>
<circle cx="302.4" cy="1432.5" r="1.5"/>
<circle cx="324.4" cy="1431.9" r="1.5"/>
<circle cx="485.6" cy="1434.2" r="1.5"/>
<circle cx="324" cy="1433.1" r="1.5"/>
<circle cx="402.1" cy="1431.2" r="1.5"/>
<circle cx="362.5" cy="1432.9" r="1.5"/>
<circle cx="389.3" cy="1433" r="1.5"/>
<circle cx="313.9" cy="1433.1" r="1.5"/>
<circle cx="428.4" cy="1431.7" r="1.5"/>
<circle cx="419.1" cy="1434.3" r="1.5"/>
<circle cx="487.1" cy="1433.2" r="1.5"/>
<circle cx="409.4" cy="1433.6" r="1.5"/>
<circle cx="395.3" cy="1433.5" r="1.5"/>
<circle cx="378.3" cy="1432.9" r="1.5"/>
<circle cx="454.1" cy="1433" r="1.5"/>
<circle cx="426.6" cy="1432.3" r="1.5"/>
<circle cx="373.5" cy="1433.3" r="1.5"/>
<circle cx="393.6" cy="1432.5" r="1.5"/>
<circle cx="379.6" cy="1432" r="1.5"/>
<circle cx="431.4" cy="1434.1" r="1.5"/>
<circle cx="340.9" cy="1433.3" r="1.5"/>
<circle cx="411.6" cy="1433.2" r="1.5"/>
<circle cx="439.3" cy="1432.4" r="1.5"/>
<circle cx="302.2" cy="1432.3" r="1.5"/>
<circle cx="409.4" cy="1433.2" r="1.5"/>
<circle cx="494.6" cy="1433.3" r="1.5"/>
<circle cx="437.2" cy="1432.2" r="1.5"/>
<circle cx="466.8" cy="1431.5" r="1.5"/>
<circle cx="485.9" cy="1432.7" r="1.5"/>
<circle cx="395.2" cy="1433.4" r="1.5"/>
<circle cx="414" cy="1434.5" r="1.5"/>
<circle cx="325.3" cy="1431.2" r="1.5"/>
<circle cx="424.9" cy="1431.8" r="1.5"/>
<circle cx="347.8" cy="1434.5" r="1.5"/>
<circle cx="411.1" cy="1432" r="1.5"/>
<circle cx="376.6" cy="1431.8" r="1.5"/>
<circle cx="352.9" cy="1431.5" r="1.5"/>
<circle cx="505" cy="1433.6" r="1.5"/>
<circle cx="375.5" cy="1431.4" r="1.5"/>
<circle cx="504.9" cy="1434.1" r="1.5"/>
<circle cx="319.9" cy="1434" r="1.5"/>
<circle cx="415.8" cy="1434.4" r="1.5"/>
<circle cx="392.5" cy="1432.5" r="1.5"/>
<circle cx="301.8" cy="1433" r="1.5"/>
<circle cx="350.1" cy="1434.1" r="1.5"/>
<circle cx="347" cy="1434.1" r="1.5"/>
<circle cx="370" cy="1433.8" r="1.5"/>
<circle cx="450" cy="1434.3" r="1.5"/>
<circle cx="420.8" cy="1432.3" r="1.5"/>
<circle cx="355.2" cy="1431.8" r="1.5"/>
<circle cx="321.7" cy="1432" r="1.5"/>
<circle cx="366.6" cy="1433.9" r="1.5"/>
<circle cx="301.4" cy="1432.8" r="1.5"/>
<circle cx="406.6" cy="1431.6" r="1.5"/>
<circle cx="445.6" cy="1431.7" r="1.5"/>
<circle cx="456.1" cy="1431.6" r="1.5"/>
<circle cx="484.5" cy="1432.1" r="1.5"/>
<circle cx="319.8" cy="1431.5" r="1.5"/>
<circle cx="342.9" cy="1431.5" r="1.5"/>
<circle cx="365.9" cy="1434.4" r="1.5"/>
<circle cx="378.7" cy="1432.4" r="1.5"/>
<circle cx="458.1" cy="1431.3" r="1.5"/>
<circle cx="318.4" cy="1434" r="1.5"/>
<circle cx="368.7" cy="1431.6" r="1.5"/>
<circle cx="338.6" cy="1433.6" r="1.5"/>
<circle cx="505.3" cy="1432.4" r="1.5"/>
<circle cx="449.4" cy="1432.6" r="1.5"/>
<circle cx="342.8" cy="1432.1" r="1.5"/>
<circle cx="371.2" cy="1431.9" r="1.5"/>
<circle cx="466.7" cy="1431.3" r="1.5"/>
<circle cx="381.1" cy="1433.6" r="1.5"/>
<circle cx="307" cy="1434.4" r="1.5"/>
<circle cx="429.1" cy="1433.3" r="1.5"/>
<circle cx="340.4" cy="1431.7" r="1.5"/>
<circle cx="477.1" cy="1434.4" r="1.5"/>
<circle cx="303.1" cy="1433.9" r="1.5"/>
<circle cx="342" cy="1431.3" r="1.5"/>
<circle cx="425.3" cy="1431.3" r="1.5"/>
<circle cx="476.6" cy="1434" r="1.5"/>
<circle cx="360.1" cy="1431.5" r="1.5"/>
<circle cx="407.7" cy="1433.6" r="1.5"/>
<circle cx="308" cy="1433.5" r="1.5"/>
<circle cx="325.9" cy="1432.3" r="1.5"/>
<circle cx="334.6" cy="1431.3" r="1.5"/>
<circle cx="412.3" cy="1432" r="1.5"/>
<circle cx="491.3" cy="1434.2" r="1.5"/>
<circle cx="452.5" cy="1432.8" r="1.5"/>
<circle cx="435.8" cy="1432.2" r="1.5"/>
<circle cx="398.5" cy="1432.9" r="1.5"/>
<circle cx="388.4" cy="1432.6" r="1.5"/>
<circle cx="478.9" cy="1434.5" r="1.5"/>
<circle cx="454.5" cy="1434" r="1.5"/>
<circle cx="364.1" cy="1431.3" r="1.5"/>
<circle cx="346.8" cy="1432.7" r="1.5"/>
<circle cx="460.6" cy="1433.6" r="1.5"/>
<circle cx="492.2" cy="1433.7" r="1.5"/>
<circle cx="362.7" cy="1431.2" r="1.5"/>
<circle cx="401.3" cy="1432.2" r="1.5"/>
<circle cx="482.7" cy="1434.2" r="1.5"/>
<circle cx="413" cy="1433.7" r="1.5"/>
<circle cx="452.6" cy="1432.8" r="1.5"/>
<circle cx="392.8" cy="1434.3" r="1.5"/>
<circle cx="467.5" cy="1433" r="1.5"/>
<circle cx="507.3" cy="1431.5" r="1.5"/>
<circle cx="461.6" cy="1432.9" r="1.5"/>
<circle cx="367.5" cy="1431.4" r="1.5"/>
<circle cx="422" cy="1434" r="1.5"/>
<circle cx="336.9" cy="1434.1" r="1.5"/>
<circle cx="507.2" cy="1431.7" r="1.5"/>
<circle cx="416" cy="1432.7" r="1.5"/>
<circle cx="370.5" cy="1431.4" r="1.5"/>
<circle cx="356.2" cy="1434.3" r="1.5"/>
<circle cx="476.4" cy="1434.3" r="1.5"/>
<circle cx="404.7" cy="1432.7" r="1.5"/>
<circle cx="312.9" cy="1432.5" r="1.5"/>
<circle cx="422.1" cy="1434.5" r="1.5"/>
<circle cx="313.5" cy="1433.3" r="1.5"/>
<circle cx="309.8" cy="1434.4" r="1.5"/>
<circle cx="342.4" cy="1433.4" r="1.5"/>
<circle cx="433.2" cy="1431.7" r="1.5"/>
<circle cx="397" cy="1432.5" r="1.5"/>
<circle cx="337.5" cy="1432.4" r="1.5"/>
<circle cx="313.3" cy="1433.5" r="1.5"/>
<circle cx="503.9" cy="1432.9" r="1.5"/>
<circle cx="383.9" cy="1432.8" r="1.5"/>
<circle cx="330.3" cy="1433.6" r="1.5"/>
<circle cx="445.1" cy="1431.4" r="1.5"/>
<circle cx="379.4" cy="1431.4" r="1.5"/>
<circle cx="447.2" cy="1431.1" r="1.5"/>
<circle cx="482.8" cy="1431.2" r="1.5"/>
<circle cx="475.4" cy="1431.7" r="1.5"/>
<circle cx="411.1" cy="1433.5" r="1.5"/>
<circle cx="497.2" cy="1434.1" r="1.5"/>
<circle cx="332" cy="1433.5" r="1.5"/>
<circle cx="390.3" cy="1431.6" r="1.5"/>
<circle cx="397" cy="1434.3" r="1.5"/>
<circle cx="304.1" cy="1433.4" r="1.5"/>
<circle cx="413.9" cy="1434.1" r="1.5"/>
<circle cx="399.8" cy="1431.9" r="1.5"/>
<circle cx="478.7" cy="1431.4" r="1.5"/>
<circle cx="444.6" cy="1432" r="1.5"/>
<circle cx="311.3" cy="1431.6" r="1.5"/>
<circle cx="478.5" cy="1431.5" r="1.5"/>
<circle cx="492.9" cy="1431.5" r="1.5"/>
<circle cx="494.9" cy="1431.2" r="1.5"/>
<circle cx="438.4" cy="1432.9" r="1.5"/>
<circle cx="425.3" cy="1434.2" r="1.5"/>
<circle cx="347.6" cy="1434.5" r="1.5"/>
<circle cx="419.7" cy="1433.8" r="1.5"/>
<circle cx="352.6" cy="1434.5" r="1.5"/>
<circle cx="451.3" cy="1432.6" r="1.5"/>
<circle cx="345.6" cy="1434.1" r="1.5"/>
<circle cx="417.6" cy="1434.5" r="1.5"/>
<circle cx="485.6" cy="1433.6" r="1.5"/>
<circle cx="451.6" cy="1431.6" r="1.5"/>
<circle cx="474.3" cy="1433.5" r="1.5"/>
<circle cx="320.5" cy="1431.2" r="1.5"/>
<circle cx="321.3" cy="1431.8" r="1.5"/>
<circle cx="460.5" cy="1433.7" r="1.5"/>
<circle cx="445.9" cy="1432.3" r="1.5"/>
<circle cx="497" cy="1431.5" r="1.5"/>
<circle cx="347.8" cy="1432.5" r="1.5"/>
<circle cx="354.7" cy="1433.6" r="1.5"/>
<circle cx="475.3" cy="1433.6" r="1.5"/>
<circle cx="367.9" cy="1433" r="1.5"/>
<circle cx="366.2" cy="1432.9" r="1.5"/>
<circle cx="485.9" cy="1426.5" r="1.8"/>
<circle cx="414.4" cy="1426.2" r="1.8"/>
<circle cx="604.4" cy="1436.9" r="1.8"/>
<circle cx="516.1" cy="1425.2" r="1.8"/>
<circle cx="379.4" cy="1435.4" r="1.8"/>
<circle cx="471.6" cy="1425" r="1.8"/>
<circle cx="549.5" cy="1435.1" r="1.8"/>
<circle cx="478.7" cy="1436.6" r="1.8"/>
<circle cx="597.9" cy="1426.6" r="1.8"/>
<circle cx="313.6" cy="1436.3" r="1.8"/>
<circle cx="463.6" cy="1436.2" r="1.8"/>
<circle cx="394.5" cy="1435" r="1.8"/>
<circle cx="515" cy="1436.2" r="1.8"/>
<circle cx="451.9" cy="1425.7" r="1.8"/>
<circle cx="374.8" cy="1424.4" r="1.8"/>
<circle cx="319.3" cy="1425.5" r="1.8"/>
<circle cx="487.3" cy="1437.3" r="1.8"/>
<circle cx="452.6" cy="1424.4" r="1.8"/>
<circle cx="504" cy="1426.4" r="1.8"/>
<circle cx="517" cy="1424.6" r="1.8"/>
<circle cx="402" cy="1437" r="1.8"/>
<circle cx="535.6" cy="1435.5" r="1.8"/>
<circle cx="440.4" cy="1435.6" r="1.8"/>
<circle cx="422" cy="1436" r="1.8"/>
<circle cx="439.1" cy="1436.5" r="1.8"/>
<circle cx="548.9" cy="1425.8" r="1.8"/>
<circle cx="481.4" cy="1435.1" r="1.8"/>
<circle cx="522.2" cy="1435.4" r="1.8"/>
<circle cx="393.8" cy="1436.8" r="1.8"/>
<circle cx="425.1" cy="1436.4" r="1.8"/>
<circle cx="389" cy="1425.5" r="1.8"/>
<circle cx="373.4" cy="1437.3" r="1.8"/>
<circle cx="585.8" cy="1425.6" r="1.8"/>
<circle cx="385.9" cy="1437.4" r="1.8"/>
<circle cx="574.1" cy="1436.2" r="1.8"/>
<circle cx="492.2" cy="1426" r="1.8"/>
<circle cx="327.3" cy="1426.1" r="1.8"/>
<circle cx="574.8" cy="1425.1" r="1.8"/>
<circle cx="455.6" cy="1424.8" r="1.8"/>
<circle cx="518.9" cy="1437.1" r="1.8"/>
<circle cx="557.9" cy="1426.1" r="1.8"/>
<circle cx="482" cy="1425.9" r="1.8"/>
<circle cx="508.7" cy="1436.8" r="1.8"/>
<circle cx="412.7" cy="1436.4" r="1.8"/>
<circle cx="323" cy="1426.1" r="1.8"/>
<circle cx="439.1" cy="1435.8" r="1.8"/>
<circle cx="477.2" cy="1435.4" r="1.8"/>
<circle cx="400.7" cy="1424.6" r="1.8"/>
<circle cx="513.4" cy="1426.4" r="1.8"/>
<circle cx="385.9" cy="1424.3" r="1.8"/>
<circle cx="483.8" cy="1425.9" r="1.8"/>
<circle cx="337.7" cy="1425.7" r="1.8"/>
<circle cx="508.9" cy="1424.2" r="1.8"/>
<circle cx="352.6" cy="1426.2" r="1.8"/>
<circle cx="318.3" cy="1424.6" r="1.8"/>
<circle cx="512.6" cy="1425.7" r="1.8"/>
<circle cx="350.2" cy="1424.5" r="1.8"/>
<circle cx="368.9" cy="1437.4" r="1.8"/>
<circle cx="350" cy="1426.6" r="1.8"/>
<circle cx="492.2" cy="1426.1" r="1.8"/>
<circle cx="559.4" cy="1436.4" r="1.8"/>
<circle cx="434.7" cy="1424.9" r="1.8"/>
<circle cx="597.1" cy="1437.2" r="1.8"/>
<circle cx="572.8" cy="1424.3" r="1.8"/>
<circle cx="503.4" cy="1435.9" r="1.8"/>
<circle cx="322" cy="1436.1" r="1.8"/>
<circle cx="349" cy="1425.9" r="1.8"/>
<circle cx="539.2" cy="1424.5" r="1.8"/>
<circle cx="497.2" cy="1436.8" r="1.8"/>
<circle cx="507" cy="1435.3" r="1.8"/>
<circle cx="241.9" cy="1430.6" r="2"/>
<circle cx="252" cy="1410.7" r="2"/>
<circle cx="251.8" cy="1411.1" r="2"/>
<circle cx="253.4" cy="1433.8" r="2"/>
<circle cx="261.1" cy="1408.3" r="2"/>
<circle cx="253.6" cy="1417.7" r="2"/>
<circle cx="242.8" cy="1420.9" r="2"/>
<circle cx="259.2" cy="1435.1" r="2"/>
<circle cx="261.6" cy="1432.5" r="2"/>
<circle cx="241.1" cy="1429" r="2"/>
<circle cx="260.1" cy="1420.9" r="2"/>
<circle cx="251.9" cy="1416.6" r="2"/>
<circle cx="259" cy="1408.4" r="2"/>
<circle cx="261.3" cy="1406.7" r="2"/>
<circle cx="251.7" cy="1425.1" r="2"/>
<circle cx="250.4" cy="1434.2" r="2"/>
<circle cx="244.7" cy="1426" r="2"/>
<circle cx="261.8" cy="1435.6" r="2"/>
<circle cx="254.8" cy="1413.7" r="2"/>
<circle cx="242.9" cy="1422.6" r="2"/>
<circle cx="245.1" cy="1432" r="2"/>
<circle cx="257.9" cy="1402.8" r="2"/>
<circle cx="255.4" cy="1422.5" r="2"/>
<circle cx="249.9" cy="1425.7" r="2"/>
<circle cx="247.3" cy="1413.9" r="2"/>
<circle cx="254.4" cy="1426.3" r="2"/>
<circle cx="248" cy="1433.7" r="2"/>
<circle cx="241.9" cy="1415" r="2"/>
<circle cx="257" cy="1413.3" r="2"/>
<circle cx="249.1" cy="1419.5" r="2"/>
<circle cx="251" cy="1433.1" r="2"/>
<circle cx="246.1" cy="1421.8" r="2"/>
<circle cx="256.6" cy="1411.2" r="2"/>
<circle cx="244.4" cy="1431.4" r="2"/>
<circle cx="244.2" cy="1429" r="2"/>
<circle cx="260.2" cy="1433.6" r="2"/>
<circle cx="252.3" cy="1417.3" r="2"/>
<circle cx="248.6" cy="1429.8" r="2"/>
<circle cx="243.5" cy="1416.2" r="2"/>
<circle cx="251" cy="1431.8" r="2"/>
<circle cx="250.6" cy="1413.6" r="2"/>
<circle cx="255.7" cy="1433.8" r="2"/>
<circle cx="245.1" cy="1410.8" r="2"/>
<circle cx="259.3" cy="1421.2" r="2"/>
<circle cx="250.2" cy="1417.1" r="2"/>
<circle cx="241.7" cy="1411.5" r="2"/>
<circle cx="259.4" cy="1415.9" r="2"/>
<circle cx="261.5" cy="1400.9" r="2"/>
<circle cx="251.1" cy="1413.7" r="2"/>
<circle cx="252.5" cy="1423.6" r="2"/>
<circle cx="262.6" cy="1418" r="2"/>
<circle cx="250.2" cy="1430" r="2"/>
<circle cx="245.8" cy="1427.9" r="2"/>
<circle cx="246.5" cy="1422" r="2"/>
<circle cx="258.3" cy="1417.7" r="2"/>
<circle cx="245.3" cy="1417" r="2"/>
<circle cx="244.9" cy="1411.6" r="2"/>
<circle cx="246.6" cy="1422.1" r="2"/>
<circle cx="255.3" cy="1412.6" r="2"/>
<circle cx="261.8" cy="1404.9" r="2"/>
<circle cx="248.1" cy="1416.1" r="2"/>
<circle cx="260.7" cy="1434.2" r="2"/>
<circle cx="241.4" cy="1426.4" r="2"/>
<circle cx="261.9" cy="1433" r="2"/>
<circle cx="246.6" cy="1428.6" r="2"/>
<circle cx="256.7" cy="1432.5" r="2"/>
<circle cx="254.3" cy="1420.5" r="2"/>
<circle cx="260.9" cy="1428.5" r="2"/>
<circle cx="241.1" cy="1417.8" r="2"/>
<circle cx="254.3" cy="1431.1" r="2"/>
<circle cx="262.2" cy="1398.9" r="2"/>
<circle cx="248.7" cy="1412.4" r="2"/>
<circle cx="259.6" cy="1407.6" r="2"/>
<circle cx="250.7" cy="1431.6" r="2"/>
<circle cx="244" cy="1412.4" r="2"/>
<circle cx="251.2" cy="1410.5" r="2"/>
<circle cx="251.9" cy="1409.3" r="2"/>
<circle cx="261.4" cy="1420.8" r="2"/>
<circle cx="259.3" cy="1422.1" r="2"/>
<circle cx="243.2" cy="1421.2" r="2"/>
<circle cx="241.3" cy="1411.3" r="2"/>
<circle cx="244.1" cy="1415.7" r="2"/>
<circle cx="262.7" cy="1417.9" r="2"/>
<circle cx="244.6" cy="1430.4" r="2"/>
<circle cx="242.7" cy="1418.8" r="2"/>
<circle cx="241.1" cy="1433.2" r="2"/>
<circle cx="247.3" cy="1436.1" r="2"/>
<circle cx="259.8" cy="1432.8" r="2"/>
<circle cx="244.8" cy="1419.1" r="2"/>
<circle cx="258.4" cy="1425.4" r="2"/>
<circle cx="247.5" cy="1419.1" r="2"/>
<circle cx="245.5" cy="1428.2" r="2"/>
<circle cx="246.3" cy="1428.5" r="2"/>
<circle cx="260.6" cy="1402.8" r="2"/>
<circle cx="257.1" cy="1425" r="2"/>
<circle cx="261" cy="1415.1" r="2"/>
<circle cx="256.5" cy="1426.8" r="2"/>
<circle cx="253" cy="1413" r="2"/>
<circle cx="243.6" cy="1435.9" r="2"/>
<circle cx="254" cy="1435.2" r="2"/>
<circle cx="257.5" cy="1402.4" r="2"/>
<circle cx="257.5" cy="1427.9" r="2"/>
<circle cx="258.5" cy="1423.9" r="2"/>
<circle cx="251.4" cy="1417.5" r="2"/>
<circle cx="262" cy="1432" r="2"/>
<circle cx="241.6" cy="1434" r="2"/>
<circle cx="240.8" cy="1413" r="2"/>
<circle cx="244.8" cy="1424.3" r="2"/>
<circle cx="247" cy="1418.5" r="2"/>
<circle cx="255" cy="1424.1" r="2"/>
<path d="M240 1429.8 L242 1428.5 L244 1427.5 L246 1426.3 L248 1422.8 L250 1421.8 L252 1421.6 L252 1436.8 L250 1436.6 L248 1435.9 L246 1437.2 L244 1436.9 L242 1436.3 L240 1437.9Z" fill="#000"/>
<circle cx="302.9" cy="1264.5" r="2"/>
<circle cx="302.9" cy="1278.3" r="2"/>
<circle cx="303.7" cy="1324.4" r="2"/>
<circle cx="245.6" cy="1392.8" r="2"/>
<circle cx="300" cy="1262" r="2"/>
<circle cx="304" cy="1259" r="2"/></svg>
</body></html>
